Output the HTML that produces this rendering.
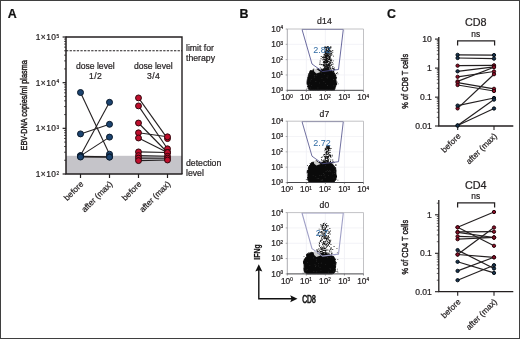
<!DOCTYPE html>
<html lang="en"><head><meta charset="utf-8"><title>Figure</title>
<style>html,body{margin:0;padding:0;background:#fff}body{width:520px;height:339px;overflow:hidden}svg{display:block}</style>
</head><body>
<svg width="520" height="339" viewBox="0 0 520 339" font-family="Liberation Sans, Arial, Helvetica, sans-serif" fill="#231f20"><style>text{stroke:#231f20;stroke-width:.22px;paint-order:stroke}</style>
<rect x="0" y="0" width="520" height="339" fill="#fff"/>
<rect x="0.5" y="0.5" width="519" height="338" fill="none" stroke="#3f3f3f" stroke-width="1"/>
<text x="7.8" y="18.4" font-size="12.4" font-weight="bold" fill="#111" style="stroke:#111">A</text>
<text x="239.5" y="18.4" font-size="12.4" font-weight="bold" fill="#111" style="stroke:#111">B</text>
<text x="386.9" y="18.4" font-size="12.4" font-weight="bold" fill="#111" style="stroke:#111">C</text>
<rect x="66.0" y="155.8" width="116.0" height="18.19999999999999" fill="#c5c4c9"/>
<line x1="66.0" y1="50.7" x2="182.0" y2="50.7" stroke="#231f20" stroke-width="1.15" stroke-dasharray="2.3 1.3"/>
<path d="M66.0 37.0H182.0V174.0" fill="none" stroke="#231f20" stroke-width="1.4"/>
<path d="M66.0 36.4V174.0H182.5" fill="none" stroke="#231f20" stroke-width="1.5"/>
<line x1="62.6" y1="37.00" x2="66.0" y2="37.00" stroke="#231f20" stroke-width="1.2"/>
<line x1="64.1" y1="68.92" x2="66.0" y2="68.92" stroke="#231f20" stroke-width="0.8"/>
<line x1="64.1" y1="60.88" x2="66.0" y2="60.88" stroke="#231f20" stroke-width="0.8"/>
<line x1="64.1" y1="55.17" x2="66.0" y2="55.17" stroke="#231f20" stroke-width="0.8"/>
<line x1="64.1" y1="50.75" x2="66.0" y2="50.75" stroke="#231f20" stroke-width="0.8"/>
<line x1="64.1" y1="47.13" x2="66.0" y2="47.13" stroke="#231f20" stroke-width="0.8"/>
<line x1="64.1" y1="44.07" x2="66.0" y2="44.07" stroke="#231f20" stroke-width="0.8"/>
<line x1="64.1" y1="41.43" x2="66.0" y2="41.43" stroke="#231f20" stroke-width="0.8"/>
<line x1="64.1" y1="39.09" x2="66.0" y2="39.09" stroke="#231f20" stroke-width="0.8"/>
<text x="59.5" y="40.00" font-size="8.4" letter-spacing="0.45" text-anchor="end">1×10<tspan dy="-2.5" font-size="4.7">5</tspan></text>
<line x1="62.6" y1="82.67" x2="66.0" y2="82.67" stroke="#231f20" stroke-width="1.2"/>
<line x1="64.1" y1="114.59" x2="66.0" y2="114.59" stroke="#231f20" stroke-width="0.8"/>
<line x1="64.1" y1="106.54" x2="66.0" y2="106.54" stroke="#231f20" stroke-width="0.8"/>
<line x1="64.1" y1="100.84" x2="66.0" y2="100.84" stroke="#231f20" stroke-width="0.8"/>
<line x1="64.1" y1="96.41" x2="66.0" y2="96.41" stroke="#231f20" stroke-width="0.8"/>
<line x1="64.1" y1="92.80" x2="66.0" y2="92.80" stroke="#231f20" stroke-width="0.8"/>
<line x1="64.1" y1="89.74" x2="66.0" y2="89.74" stroke="#231f20" stroke-width="0.8"/>
<line x1="64.1" y1="87.09" x2="66.0" y2="87.09" stroke="#231f20" stroke-width="0.8"/>
<line x1="64.1" y1="84.76" x2="66.0" y2="84.76" stroke="#231f20" stroke-width="0.8"/>
<text x="59.5" y="85.67" font-size="8.4" letter-spacing="0.45" text-anchor="end">1×10<tspan dy="-2.5" font-size="4.7">4</tspan></text>
<line x1="62.6" y1="128.33" x2="66.0" y2="128.33" stroke="#231f20" stroke-width="1.2"/>
<line x1="64.1" y1="160.25" x2="66.0" y2="160.25" stroke="#231f20" stroke-width="0.8"/>
<line x1="64.1" y1="152.21" x2="66.0" y2="152.21" stroke="#231f20" stroke-width="0.8"/>
<line x1="64.1" y1="146.51" x2="66.0" y2="146.51" stroke="#231f20" stroke-width="0.8"/>
<line x1="64.1" y1="142.08" x2="66.0" y2="142.08" stroke="#231f20" stroke-width="0.8"/>
<line x1="64.1" y1="138.46" x2="66.0" y2="138.46" stroke="#231f20" stroke-width="0.8"/>
<line x1="64.1" y1="135.41" x2="66.0" y2="135.41" stroke="#231f20" stroke-width="0.8"/>
<line x1="64.1" y1="132.76" x2="66.0" y2="132.76" stroke="#231f20" stroke-width="0.8"/>
<line x1="64.1" y1="130.42" x2="66.0" y2="130.42" stroke="#231f20" stroke-width="0.8"/>
<text x="59.5" y="131.33" font-size="8.4" letter-spacing="0.45" text-anchor="end">1×10<tspan dy="-2.5" font-size="4.7">3</tspan></text>
<line x1="62.6" y1="174.00" x2="66.0" y2="174.00" stroke="#231f20" stroke-width="1.2"/>
<text x="59.5" y="177.00" font-size="8.4" letter-spacing="0.45" text-anchor="end">1×10<tspan dy="-2.5" font-size="4.7">2</tspan></text>
<line x1="80.50" y1="174.0" x2="80.50" y2="178.0" stroke="#231f20" stroke-width="1.2"/>
<text transform="translate(84.00 184.5) rotate(-45)" font-size="8.3" text-anchor="end">before</text>
<line x1="109.50" y1="174.0" x2="109.50" y2="178.0" stroke="#231f20" stroke-width="1.2"/>
<text transform="translate(113.00 184.5) rotate(-45)" font-size="8.3" text-anchor="end">after (max)</text>
<line x1="138.50" y1="174.0" x2="138.50" y2="178.0" stroke="#231f20" stroke-width="1.2"/>
<text transform="translate(142.00 184.5) rotate(-45)" font-size="8.3" text-anchor="end">before</text>
<line x1="167.50" y1="174.0" x2="167.50" y2="178.0" stroke="#231f20" stroke-width="1.2"/>
<text transform="translate(171.00 184.5) rotate(-45)" font-size="8.3" text-anchor="end">after (max)</text>
<text transform="translate(26.5 105.3) rotate(-90)" font-size="9.4" style="stroke-width:.45px" text-anchor="middle" textLength="90.2" lengthAdjust="spacingAndGlyphs">EBV-DNA copies/ml plasma</text>
<text x="95.3" y="68.6" font-size="8.6" text-anchor="middle">dose level</text>
<text x="95.6" y="78.6" font-size="8.6" letter-spacing="0.35" text-anchor="middle">1/2</text>
<text x="153.3" y="68.6" font-size="8.6" text-anchor="middle">dose level</text>
<text x="153.6" y="78.6" font-size="8.6" letter-spacing="0.35" text-anchor="middle">3/4</text>
<text x="186" y="50.6" font-size="8.7">limit for</text>
<text x="186" y="61.4" font-size="8.7">therapy</text>
<text x="186" y="165.6" font-size="8.7">detection</text>
<text x="186" y="176.2" font-size="8.7">level</text>
<line x1="80.5" y1="92.5" x2="109.5" y2="154.2" stroke="#231f20" stroke-width="1.1"/>
<line x1="80.5" y1="133.9" x2="109.5" y2="124.3" stroke="#231f20" stroke-width="1.1"/>
<line x1="80.5" y1="155.6" x2="109.5" y2="102.3" stroke="#231f20" stroke-width="1.1"/>
<line x1="80.5" y1="155.9" x2="109.5" y2="137.1" stroke="#231f20" stroke-width="1.1"/>
<line x1="80.5" y1="156.4" x2="109.5" y2="156.7" stroke="#231f20" stroke-width="1.1"/>
<line x1="80.5" y1="157.0" x2="109.5" y2="157.2" stroke="#231f20" stroke-width="1.1"/>
<circle cx="80.5" cy="92.5" r="3.0" fill="#1c4470" stroke="#0a1a2c" stroke-width="1.0"/>
<circle cx="109.5" cy="154.2" r="3.0" fill="#1c4470" stroke="#0a1a2c" stroke-width="1.0"/>
<circle cx="80.5" cy="133.9" r="3.0" fill="#1c4470" stroke="#0a1a2c" stroke-width="1.0"/>
<circle cx="109.5" cy="124.3" r="3.0" fill="#1c4470" stroke="#0a1a2c" stroke-width="1.0"/>
<circle cx="80.5" cy="155.6" r="3.0" fill="#1c4470" stroke="#0a1a2c" stroke-width="1.0"/>
<circle cx="109.5" cy="102.3" r="3.0" fill="#1c4470" stroke="#0a1a2c" stroke-width="1.0"/>
<circle cx="80.5" cy="155.9" r="3.0" fill="#1c4470" stroke="#0a1a2c" stroke-width="1.0"/>
<circle cx="109.5" cy="137.1" r="3.0" fill="#1c4470" stroke="#0a1a2c" stroke-width="1.0"/>
<circle cx="80.5" cy="156.4" r="3.0" fill="#1c4470" stroke="#0a1a2c" stroke-width="1.0"/>
<circle cx="109.5" cy="156.7" r="3.0" fill="#1c4470" stroke="#0a1a2c" stroke-width="1.0"/>
<circle cx="80.5" cy="157.0" r="3.0" fill="#1c4470" stroke="#0a1a2c" stroke-width="1.0"/>
<circle cx="109.5" cy="157.2" r="3.0" fill="#1c4470" stroke="#0a1a2c" stroke-width="1.0"/>
<line x1="138.5" y1="97.9" x2="167.5" y2="138.6" stroke="#231f20" stroke-width="1.1"/>
<line x1="138.5" y1="105.9" x2="167.5" y2="148.8" stroke="#231f20" stroke-width="1.1"/>
<line x1="138.5" y1="123" x2="167.5" y2="152.5" stroke="#231f20" stroke-width="1.1"/>
<line x1="138.5" y1="132.8" x2="167.5" y2="136.8" stroke="#231f20" stroke-width="1.1"/>
<line x1="138.5" y1="138" x2="167.5" y2="152.5" stroke="#231f20" stroke-width="1.1"/>
<line x1="138.5" y1="151.9" x2="167.5" y2="152.5" stroke="#231f20" stroke-width="1.1"/>
<line x1="138.5" y1="155.6" x2="167.5" y2="156.3" stroke="#231f20" stroke-width="1.1"/>
<line x1="138.5" y1="158.1" x2="167.5" y2="158.2" stroke="#231f20" stroke-width="1.1"/>
<line x1="138.5" y1="160.6" x2="167.5" y2="160" stroke="#231f20" stroke-width="1.1"/>
<circle cx="138.5" cy="97.9" r="2.95" fill="#c00f2d" stroke="#30060c" stroke-width="1.0"/>
<circle cx="167.5" cy="138.6" r="2.95" fill="#c00f2d" stroke="#30060c" stroke-width="1.0"/>
<circle cx="138.5" cy="105.9" r="2.95" fill="#c00f2d" stroke="#30060c" stroke-width="1.0"/>
<circle cx="167.5" cy="148.8" r="2.95" fill="#c00f2d" stroke="#30060c" stroke-width="1.0"/>
<circle cx="138.5" cy="123" r="2.95" fill="#c00f2d" stroke="#30060c" stroke-width="1.0"/>
<circle cx="167.5" cy="152.5" r="2.95" fill="#c00f2d" stroke="#30060c" stroke-width="1.0"/>
<circle cx="138.5" cy="132.8" r="2.95" fill="#c00f2d" stroke="#30060c" stroke-width="1.0"/>
<circle cx="167.5" cy="136.8" r="2.95" fill="#c00f2d" stroke="#30060c" stroke-width="1.0"/>
<circle cx="138.5" cy="138" r="2.95" fill="#c00f2d" stroke="#30060c" stroke-width="1.0"/>
<circle cx="167.5" cy="152.5" r="2.95" fill="#c00f2d" stroke="#30060c" stroke-width="1.0"/>
<circle cx="138.5" cy="151.9" r="2.95" fill="#c00f2d" stroke="#30060c" stroke-width="1.0"/>
<circle cx="167.5" cy="152.5" r="2.95" fill="#c00f2d" stroke="#30060c" stroke-width="1.0"/>
<circle cx="138.5" cy="155.6" r="2.95" fill="#c00f2d" stroke="#30060c" stroke-width="1.0"/>
<circle cx="167.5" cy="156.3" r="2.95" fill="#c00f2d" stroke="#30060c" stroke-width="1.0"/>
<circle cx="138.5" cy="158.1" r="2.95" fill="#c00f2d" stroke="#30060c" stroke-width="1.0"/>
<circle cx="167.5" cy="158.2" r="2.95" fill="#c00f2d" stroke="#30060c" stroke-width="1.0"/>
<circle cx="138.5" cy="160.6" r="2.95" fill="#c00f2d" stroke="#30060c" stroke-width="1.0"/>
<circle cx="167.5" cy="160" r="2.95" fill="#c00f2d" stroke="#30060c" stroke-width="1.0"/>
<text x="324.5" y="24.3" font-size="8.6" letter-spacing="0.3" text-anchor="middle">d14</text>
<line x1="306.35" y1="29.0" x2="306.35" y2="90.3" stroke="#f0f0f5" stroke-width="0.8"/>
<line x1="287.3" y1="44.33" x2="363.5" y2="44.33" stroke="#f0f0f5" stroke-width="0.8"/>
<line x1="325.40" y1="29.0" x2="325.40" y2="90.3" stroke="#f0f0f5" stroke-width="0.8"/>
<line x1="287.3" y1="59.65" x2="363.5" y2="59.65" stroke="#f0f0f5" stroke-width="0.8"/>
<line x1="344.45" y1="29.0" x2="344.45" y2="90.3" stroke="#f0f0f5" stroke-width="0.8"/>
<line x1="287.3" y1="74.97" x2="363.5" y2="74.97" stroke="#f0f0f5" stroke-width="0.8"/>
<path d="M329.7 72.5h.9v.9h-.9zM322.1 70.9h.9v.9h-.9zM322.8 65.5h.9v.9h-.9zM328.2 55.5h.9v.9h-.9zM332.7 72.8h.9v.9h-.9zM327.7 67.2h.9v.9h-.9zM329.6 56.5h.9v.9h-.9zM327.1 58.1h.9v.9h-.9zM333.1 71.3h.9v.9h-.9zM324.1 73.1h.9v.9h-.9zM318.9 73.2h.9v.9h-.9zM324.8 68.4h.9v.9h-.9zM325.9 71.5h.9v.9h-.9zM326.9 71.4h.9v.9h-.9zM324.6 67.0h.9v.9h-.9zM326.6 71.3h.9v.9h-.9zM324.0 71.4h.9v.9h-.9zM327.2 73.2h.9v.9h-.9zM324.4 53.4h.9v.9h-.9zM324.9 71.9h.9v.9h-.9zM328.0 46.4h.9v.9h-.9zM325.4 69.4h.9v.9h-.9zM325.7 58.1h.9v.9h-.9zM319.9 67.4h.9v.9h-.9zM326.3 53.7h.9v.9h-.9zM324.9 62.8h.9v.9h-.9zM328.6 51.5h.9v.9h-.9zM324.3 62.7h.9v.9h-.9zM326.8 73.1h.9v.9h-.9zM332.0 67.6h.9v.9h-.9zM321.7 72.0h.9v.9h-.9zM325.8 59.8h.9v.9h-.9zM323.3 68.6h.9v.9h-.9zM328.2 55.9h.9v.9h-.9zM324.2 64.8h.9v.9h-.9zM328.9 73.2h.9v.9h-.9zM323.8 73.1h.9v.9h-.9zM319.5 62.6h.9v.9h-.9zM328.4 68.1h.9v.9h-.9zM329.3 46.9h.9v.9h-.9zM322.7 56.2h.9v.9h-.9zM325.0 71.2h.9v.9h-.9zM330.4 65.0h.9v.9h-.9zM325.6 66.5h.9v.9h-.9zM319.0 70.6h.9v.9h-.9zM324.0 73.2h.9v.9h-.9zM329.2 55.7h.9v.9h-.9zM322.6 57.4h.9v.9h-.9zM324.4 54.6h.9v.9h-.9zM326.3 67.3h.9v.9h-.9zM329.5 73.0h.9v.9h-.9zM323.5 71.7h.9v.9h-.9zM324.1 65.3h.9v.9h-.9zM326.9 69.2h.9v.9h-.9zM324.1 64.3h.9v.9h-.9zM323.9 66.5h.9v.9h-.9zM326.8 73.2h.9v.9h-.9zM328.6 62.9h.9v.9h-.9zM328.4 52.4h.9v.9h-.9zM323.5 54.3h.9v.9h-.9zM329.2 70.9h.9v.9h-.9zM322.4 72.9h.9v.9h-.9zM332.1 73.2h.9v.9h-.9zM327.1 71.0h.9v.9h-.9zM324.4 72.7h.9v.9h-.9zM324.4 73.0h.9v.9h-.9zM324.6 72.2h.9v.9h-.9zM326.3 70.6h.9v.9h-.9zM325.0 58.5h.9v.9h-.9zM327.5 66.1h.9v.9h-.9zM323.9 73.2h.9v.9h-.9zM328.8 71.9h.9v.9h-.9zM329.7 72.7h.9v.9h-.9zM324.3 71.6h.9v.9h-.9zM327.1 62.2h.9v.9h-.9zM325.9 73.2h.9v.9h-.9zM326.2 72.3h.9v.9h-.9zM325.6 58.7h.9v.9h-.9zM325.3 59.7h.9v.9h-.9zM327.1 47.2h.9v.9h-.9zM325.6 55.1h.9v.9h-.9zM326.8 60.7h.9v.9h-.9zM324.3 68.1h.9v.9h-.9zM325.9 61.3h.9v.9h-.9zM323.9 73.0h.9v.9h-.9zM332.3 51.8h.9v.9h-.9zM328.3 70.0h.9v.9h-.9zM326.2 48.9h.9v.9h-.9zM325.5 57.2h.9v.9h-.9zM327.8 73.2h.9v.9h-.9zM330.9 51.6h.9v.9h-.9zM328.2 47.8h.9v.9h-.9zM329.5 63.3h.9v.9h-.9zM330.5 47.3h.9v.9h-.9zM324.7 58.7h.9v.9h-.9zM326.5 69.2h.9v.9h-.9zM325.0 71.6h.9v.9h-.9zM323.5 71.8h.9v.9h-.9zM325.1 72.7h.9v.9h-.9zM324.7 65.4h.9v.9h-.9zM331.3 69.6h.9v.9h-.9zM321.3 73.2h.9v.9h-.9zM322.1 71.7h.9v.9h-.9zM333.0 55.7h.9v.9h-.9zM327.7 69.3h.9v.9h-.9zM330.3 53.4h.9v.9h-.9zM325.2 49.2h.9v.9h-.9zM331.3 59.4h.9v.9h-.9zM328.9 65.8h.9v.9h-.9zM326.9 57.9h.9v.9h-.9zM330.0 72.9h.9v.9h-.9zM332.8 71.5h.9v.9h-.9zM323.5 56.6h.9v.9h-.9zM323.2 68.7h.9v.9h-.9zM325.1 69.3h.9v.9h-.9zM332.1 62.2h.9v.9h-.9zM328.2 48.2h.9v.9h-.9zM325.9 63.9h.9v.9h-.9zM327.8 72.7h.9v.9h-.9zM327.5 52.2h.9v.9h-.9zM328.1 55.5h.9v.9h-.9zM324.8 61.9h.9v.9h-.9zM325.0 55.7h.9v.9h-.9zM329.5 71.4h.9v.9h-.9zM325.8 72.9h.9v.9h-.9zM332.6 63.5h.9v.9h-.9zM325.9 49.6h.9v.9h-.9zM327.6 55.5h.9v.9h-.9zM330.4 53.8h.9v.9h-.9zM326.9 72.8h.9v.9h-.9zM327.2 72.6h.9v.9h-.9zM326.0 71.1h.9v.9h-.9zM326.7 46.6h.9v.9h-.9zM327.3 72.1h.9v.9h-.9zM326.5 71.1h.9v.9h-.9zM326.4 50.2h.9v.9h-.9zM333.2 68.5h.9v.9h-.9zM325.3 70.2h.9v.9h-.9zM325.1 70.9h.9v.9h-.9zM327.1 60.6h.9v.9h-.9zM336.0 73.1h.9v.9h-.9zM327.2 70.2h.9v.9h-.9zM324.7 62.5h.9v.9h-.9zM327.4 73.0h.9v.9h-.9zM332.3 50.1h.9v.9h-.9zM324.9 72.7h.9v.9h-.9zM319.9 71.5h.9v.9h-.9zM321.6 64.1h.9v.9h-.9zM326.0 59.3h.9v.9h-.9zM325.0 64.2h.9v.9h-.9zM326.6 69.9h.9v.9h-.9zM327.9 70.4h.9v.9h-.9zM325.1 46.8h.9v.9h-.9zM328.2 60.9h.9v.9h-.9zM326.2 48.8h.9v.9h-.9zM328.3 69.6h.9v.9h-.9zM330.4 69.8h.9v.9h-.9zM321.2 70.0h.9v.9h-.9zM322.7 69.4h.9v.9h-.9zM325.9 62.5h.9v.9h-.9zM329.0 71.0h.9v.9h-.9zM326.8 73.0h.9v.9h-.9zM327.8 63.9h.9v.9h-.9zM327.4 61.2h.9v.9h-.9zM327.6 70.3h.9v.9h-.9zM325.0 52.4h.9v.9h-.9zM320.7 72.3h.9v.9h-.9zM326.5 72.9h.9v.9h-.9zM328.9 48.4h.9v.9h-.9zM330.1 46.7h.9v.9h-.9zM326.8 54.1h.9v.9h-.9zM328.0 65.0h.9v.9h-.9zM326.3 49.8h.9v.9h-.9zM333.2 72.4h.9v.9h-.9zM329.0 50.2h.9v.9h-.9zM327.7 50.6h.9v.9h-.9zM330.7 54.8h.9v.9h-.9zM324.6 57.1h.9v.9h-.9zM328.2 59.3h.9v.9h-.9zM329.7 72.2h.9v.9h-.9zM326.1 58.3h.9v.9h-.9zM324.3 73.0h.9v.9h-.9zM328.2 47.8h.9v.9h-.9zM323.6 64.2h.9v.9h-.9zM325.2 52.8h.9v.9h-.9zM327.5 69.3h.9v.9h-.9zM331.1 70.8h.9v.9h-.9zM327.4 67.6h.9v.9h-.9zM329.2 63.3h.9v.9h-.9zM327.7 72.4h.9v.9h-.9zM326.2 72.6h.9v.9h-.9zM332.3 68.0h.9v.9h-.9zM325.0 67.9h.9v.9h-.9zM324.9 73.2h.9v.9h-.9zM322.8 64.6h.9v.9h-.9zM326.7 67.0h.9v.9h-.9zM326.8 59.4h.9v.9h-.9zM324.7 65.5h.9v.9h-.9zM327.2 66.0h.9v.9h-.9zM329.6 63.6h.9v.9h-.9zM328.7 50.4h.9v.9h-.9zM325.9 60.8h.9v.9h-.9zM330.1 73.1h.9v.9h-.9zM328.3 51.7h.9v.9h-.9zM327.2 72.2h.9v.9h-.9zM320.2 69.9h.9v.9h-.9zM328.4 59.2h.9v.9h-.9zM325.1 58.8h.9v.9h-.9zM323.2 57.5h.9v.9h-.9zM325.2 50.9h.9v.9h-.9zM326.4 47.9h.9v.9h-.9zM325.7 70.9h.9v.9h-.9zM321.6 71.5h.9v.9h-.9zM324.1 73.1h.9v.9h-.9zM326.5 59.6h.9v.9h-.9zM324.2 65.0h.9v.9h-.9zM326.4 72.1h.9v.9h-.9zM327.0 46.9h.9v.9h-.9zM326.0 54.7h.9v.9h-.9zM326.3 50.1h.9v.9h-.9zM329.4 48.0h.9v.9h-.9zM330.0 53.2h.9v.9h-.9zM326.1 60.3h.9v.9h-.9zM325.4 49.6h.9v.9h-.9zM325.1 47.4h.9v.9h-.9zM330.3 67.2h.9v.9h-.9zM325.8 72.1h.9v.9h-.9zM328.2 50.3h.9v.9h-.9zM329.2 48.0h.9v.9h-.9zM329.5 67.8h.9v.9h-.9zM325.8 72.6h.9v.9h-.9zM328.8 57.0h.9v.9h-.9zM327.8 73.2h.9v.9h-.9zM329.8 73.2h.9v.9h-.9zM323.0 61.4h.9v.9h-.9zM322.8 71.6h.9v.9h-.9zM324.2 70.4h.9v.9h-.9zM326.3 62.8h.9v.9h-.9zM324.3 70.9h.9v.9h-.9zM323.6 54.6h.9v.9h-.9zM325.5 47.3h.9v.9h-.9zM326.6 52.7h.9v.9h-.9zM325.1 56.2h.9v.9h-.9zM325.3 70.4h.9v.9h-.9zM327.1 72.7h.9v.9h-.9zM326.0 57.1h.9v.9h-.9zM331.4 64.1h.9v.9h-.9zM326.8 47.3h.9v.9h-.9zM322.2 72.4h.9v.9h-.9zM326.6 69.9h.9v.9h-.9zM324.6 65.3h.9v.9h-.9zM329.7 73.2h.9v.9h-.9zM324.3 66.9h.9v.9h-.9zM327.5 68.0h.9v.9h-.9zM326.1 55.7h.9v.9h-.9zM324.2 60.8h.9v.9h-.9zM326.7 68.5h.9v.9h-.9zM326.9 70.5h.9v.9h-.9zM330.6 62.4h.9v.9h-.9zM323.2 65.1h.9v.9h-.9zM324.3 46.6h.9v.9h-.9zM328.1 67.8h.9v.9h-.9zM329.1 57.2h.9v.9h-.9zM326.3 72.1h.9v.9h-.9zM324.5 61.7h.9v.9h-.9zM325.9 73.2h.9v.9h-.9zM323.9 68.2h.9v.9h-.9zM328.2 52.4h.9v.9h-.9zM326.3 62.9h.9v.9h-.9zM322.1 57.0h.9v.9h-.9zM326.7 65.6h.9v.9h-.9zM323.3 60.7h.9v.9h-.9zM323.9 61.4h.9v.9h-.9zM329.0 61.2h.9v.9h-.9zM328.1 49.0h.9v.9h-.9zM322.8 56.3h.9v.9h-.9zM325.6 54.4h.9v.9h-.9zM324.8 70.7h.9v.9h-.9zM329.2 58.6h.9v.9h-.9zM323.6 72.3h.9v.9h-.9zM324.8 53.6h.9v.9h-.9zM326.9 73.1h.9v.9h-.9zM326.7 65.1h.9v.9h-.9zM323.4 69.0h.9v.9h-.9zM330.0 60.4h.9v.9h-.9zM327.7 48.6h.9v.9h-.9zM323.9 59.2h.9v.9h-.9zM329.3 62.2h.9v.9h-.9zM328.3 71.6h.9v.9h-.9zM333.0 70.6h.9v.9h-.9zM328.5 72.9h.9v.9h-.9zM323.4 68.7h.9v.9h-.9zM326.7 65.1h.9v.9h-.9zM325.4 60.6h.9v.9h-.9zM327.8 58.4h.9v.9h-.9zM325.0 62.0h.9v.9h-.9zM324.7 71.2h.9v.9h-.9zM326.6 55.4h.9v.9h-.9zM326.6 52.2h.9v.9h-.9zM328.5 47.7h.9v.9h-.9zM327.4 58.6h.9v.9h-.9zM326.9 50.7h.9v.9h-.9zM325.8 61.6h.9v.9h-.9zM329.4 56.5h.9v.9h-.9zM328.3 55.6h.9v.9h-.9zM330.8 72.1h.9v.9h-.9zM323.8 47.3h.9v.9h-.9zM328.9 57.8h.9v.9h-.9zM326.7 62.2h.9v.9h-.9zM330.5 72.4h.9v.9h-.9zM325.9 72.4h.9v.9h-.9zM324.9 56.9h.9v.9h-.9zM325.6 71.1h.9v.9h-.9zM321.7 70.0h.9v.9h-.9zM323.4 72.7h.9v.9h-.9zM328.8 72.8h.9v.9h-.9zM330.7 71.9h.9v.9h-.9zM328.2 51.2h.9v.9h-.9zM331.5 71.5h.9v.9h-.9zM327.9 54.4h.9v.9h-.9zM326.2 47.7h.9v.9h-.9zM326.0 53.4h.9v.9h-.9zM326.0 72.6h.9v.9h-.9zM325.4 68.0h.9v.9h-.9zM325.5 65.5h.9v.9h-.9zM327.9 71.2h.9v.9h-.9zM324.4 54.2h.9v.9h-.9zM327.6 71.5h.9v.9h-.9zM325.5 58.3h.9v.9h-.9zM329.6 50.3h.9v.9h-.9zM330.4 46.3h.9v.9h-.9zM328.3 52.6h.9v.9h-.9zM323.6 69.7h.9v.9h-.9zM329.0 49.8h.9v.9h-.9zM330.4 68.0h.9v.9h-.9zM322.8 72.3h.9v.9h-.9zM328.4 50.1h.9v.9h-.9zM327.1 60.2h.9v.9h-.9zM325.2 73.0h.9v.9h-.9zM327.8 66.4h.9v.9h-.9zM327.7 53.3h.9v.9h-.9zM326.0 73.0h.9v.9h-.9zM328.9 53.3h.9v.9h-.9zM327.2 72.6h.9v.9h-.9zM331.2 72.8h.9v.9h-.9zM327.7 57.2h.9v.9h-.9zM329.1 59.4h.9v.9h-.9zM323.0 68.2h.9v.9h-.9zM330.6 61.3h.9v.9h-.9zM325.7 71.1h.9v.9h-.9zM330.6 73.0h.9v.9h-.9zM325.0 69.1h.9v.9h-.9zM323.9 62.2h.9v.9h-.9zM325.0 73.0h.9v.9h-.9zM324.9 69.0h.9v.9h-.9zM328.0 51.6h.9v.9h-.9zM324.3 67.4h.9v.9h-.9zM323.9 57.3h.9v.9h-.9zM327.1 58.1h.9v.9h-.9zM326.1 47.1h.9v.9h-.9zM332.1 72.3h.9v.9h-.9zM325.2 52.8h.9v.9h-.9zM331.6 73.1h.9v.9h-.9zM329.6 66.2h.9v.9h-.9zM327.5 68.7h.9v.9h-.9zM326.7 64.5h.9v.9h-.9zM328.8 66.9h.9v.9h-.9zM328.8 58.6h.9v.9h-.9zM329.7 51.5h.9v.9h-.9zM327.1 72.8h.9v.9h-.9zM327.7 55.0h.9v.9h-.9zM327.1 68.3h.9v.9h-.9zM326.6 57.7h.9v.9h-.9zM328.2 55.2h.9v.9h-.9zM328.3 54.7h.9v.9h-.9zM324.7 67.4h.9v.9h-.9zM323.9 71.0h.9v.9h-.9zM325.7 69.3h.9v.9h-.9zM330.0 55.7h.9v.9h-.9zM325.3 72.7h.9v.9h-.9zM319.7 60.6h.9v.9h-.9zM329.3 58.2h.9v.9h-.9zM326.4 53.5h.9v.9h-.9zM325.0 50.8h.9v.9h-.9zM326.9 53.7h.9v.9h-.9zM328.4 68.6h.9v.9h-.9zM328.9 64.8h.9v.9h-.9zM328.3 63.2h.9v.9h-.9zM328.4 73.1h.9v.9h-.9zM322.5 69.8h.9v.9h-.9zM324.9 70.1h.9v.9h-.9zM328.8 57.1h.9v.9h-.9zM325.2 65.4h.9v.9h-.9zM327.2 50.0h.9v.9h-.9zM326.1 69.6h.9v.9h-.9zM328.0 47.0h.9v.9h-.9zM332.4 66.0h.9v.9h-.9zM325.4 47.5h.9v.9h-.9zM331.6 54.4h.9v.9h-.9zM324.9 54.9h.9v.9h-.9zM322.3 72.5h.9v.9h-.9zM327.2 46.4h.9v.9h-.9zM326.1 55.6h.9v.9h-.9zM321.8 68.8h.9v.9h-.9zM326.2 48.8h.9v.9h-.9zM324.4 66.4h.9v.9h-.9zM326.4 47.0h.9v.9h-.9zM326.1 72.3h.9v.9h-.9zM322.0 59.4h.9v.9h-.9zM323.8 71.9h.9v.9h-.9zM326.6 67.7h.9v.9h-.9zM325.5 72.8h.9v.9h-.9zM326.7 64.1h.9v.9h-.9zM328.1 70.8h.9v.9h-.9zM325.9 61.3h.9v.9h-.9zM326.3 73.0h.9v.9h-.9zM326.4 52.9h.9v.9h-.9zM326.3 52.4h.9v.9h-.9zM322.1 73.2h.9v.9h-.9zM330.5 58.5h.9v.9h-.9zM329.9 70.4h.9v.9h-.9zM325.5 52.2h.9v.9h-.9zM324.7 51.0h.9v.9h-.9zM328.7 64.1h.9v.9h-.9zM328.3 48.6h.9v.9h-.9zM323.8 54.4h.9v.9h-.9zM327.5 46.1h.9v.9h-.9zM328.7 57.1h.9v.9h-.9zM324.5 56.2h.9v.9h-.9zM326.4 67.9h.9v.9h-.9zM328.1 51.5h.9v.9h-.9zM322.3 73.1h.9v.9h-.9zM325.9 52.8h.9v.9h-.9zM327.1 70.1h.9v.9h-.9zM328.3 59.2h.9v.9h-.9zM326.7 70.0h.9v.9h-.9zM327.2 51.3h.9v.9h-.9zM319.4 64.1h.9v.9h-.9zM323.7 63.2h.9v.9h-.9zM325.8 64.2h.9v.9h-.9zM329.3 54.2h.9v.9h-.9zM326.2 61.4h.9v.9h-.9zM325.4 69.9h.9v.9h-.9zM329.9 62.8h.9v.9h-.9zM328.5 63.9h.9v.9h-.9zM326.7 61.1h.9v.9h-.9zM327.3 46.3h.9v.9h-.9zM322.7 68.7h.9v.9h-.9zM332.6 67.9h.9v.9h-.9zM324.9 60.0h.9v.9h-.9zM330.7 50.8h.9v.9h-.9zM324.0 68.4h.9v.9h-.9zM327.6 66.4h.9v.9h-.9zM324.9 57.0h.9v.9h-.9zM325.1 65.9h.9v.9h-.9zM329.6 72.6h.9v.9h-.9zM326.1 69.0h.9v.9h-.9zM326.9 72.1h.9v.9h-.9zM329.3 70.8h.9v.9h-.9zM323.3 70.3h.9v.9h-.9zM327.4 46.1h.9v.9h-.9zM329.9 57.4h.9v.9h-.9zM323.1 59.2h.9v.9h-.9zM328.8 65.8h.9v.9h-.9zM320.6 58.3h.9v.9h-.9zM327.4 58.3h.9v.9h-.9zM332.4 72.8h.9v.9h-.9zM332.7 71.3h.9v.9h-.9zM326.4 73.2h.9v.9h-.9zM329.5 48.3h.9v.9h-.9zM325.7 68.0h.9v.9h-.9zM320.3 72.8h.9v.9h-.9zM330.3 62.0h.9v.9h-.9zM326.7 64.4h.9v.9h-.9zM334.3 69.2h.9v.9h-.9zM323.6 72.7h.9v.9h-.9zM323.2 63.8h.9v.9h-.9zM328.9 72.6h.9v.9h-.9zM325.9 70.7h.9v.9h-.9zM329.7 55.3h.9v.9h-.9zM328.0 52.6h.9v.9h-.9zM321.7 72.9h.9v.9h-.9zM325.4 68.2h.9v.9h-.9zM324.7 65.2h.9v.9h-.9zM330.2 50.5h.9v.9h-.9zM330.8 72.7h.9v.9h-.9zM328.4 68.3h.9v.9h-.9zM325.8 64.8h.9v.9h-.9zM333.8 67.6h.9v.9h-.9zM320.3 70.3h.9v.9h-.9zM329.6 65.6h.9v.9h-.9zM324.1 71.5h.9v.9h-.9zM325.7 56.6h.9v.9h-.9zM329.8 73.2h.9v.9h-.9zM325.3 46.5h.9v.9h-.9zM324.1 47.5h.9v.9h-.9zM323.3 70.7h.9v.9h-.9zM326.5 56.6h.9v.9h-.9zM327.5 53.2h.9v.9h-.9zM329.0 58.7h.9v.9h-.9zM328.1 67.7h.9v.9h-.9zM328.2 63.6h.9v.9h-.9zM330.1 62.4h.9v.9h-.9zM326.1 62.1h.9v.9h-.9zM324.3 72.3h.9v.9h-.9zM328.1 59.1h.9v.9h-.9zM327.3 70.7h.9v.9h-.9zM329.5 66.2h.9v.9h-.9zM325.1 69.3h.9v.9h-.9zM326.5 51.6h.9v.9h-.9zM326.2 59.1h.9v.9h-.9zM326.4 69.6h.9v.9h-.9zM324.2 59.2h.9v.9h-.9zM324.5 51.1h.9v.9h-.9zM323.8 69.8h.9v.9h-.9zM326.6 72.5h.9v.9h-.9zM326.5 72.4h.9v.9h-.9zM328.0 64.3h.9v.9h-.9zM323.6 58.8h.9v.9h-.9zM324.7 71.3h.9v.9h-.9zM320.4 71.7h.9v.9h-.9zM324.2 67.4h.9v.9h-.9zM329.3 73.2h.9v.9h-.9zM327.2 61.8h.9v.9h-.9zM327.3 72.9h.9v.9h-.9zM330.0 46.7h.9v.9h-.9zM323.6 69.3h.9v.9h-.9zM324.1 73.2h.9v.9h-.9zM328.1 69.5h.9v.9h-.9zM328.5 56.2h.9v.9h-.9zM328.0 59.6h.9v.9h-.9zM327.3 58.0h.9v.9h-.9zM325.4 72.7h.9v.9h-.9zM328.9 73.1h.9v.9h-.9zM328.7 73.1h.9v.9h-.9zM328.8 49.2h.9v.9h-.9zM327.1 61.1h.9v.9h-.9zM331.4 70.6h.9v.9h-.9zM323.8 65.0h.9v.9h-.9zM333.4 69.0h.9v.9h-.9zM324.5 54.9h.9v.9h-.9zM322.9 62.2h.9v.9h-.9zM324.7 52.0h.9v.9h-.9zM329.1 61.7h.9v.9h-.9zM323.6 64.6h.9v.9h-.9zM325.2 68.1h.9v.9h-.9zM325.7 50.8h.9v.9h-.9zM323.4 73.1h.9v.9h-.9zM327.7 65.1h.9v.9h-.9zM328.6 67.1h.9v.9h-.9zM326.8 64.0h.9v.9h-.9zM329.0 64.5h.9v.9h-.9zM325.6 66.1h.9v.9h-.9zM327.5 68.6h.9v.9h-.9zM323.9 60.5h.9v.9h-.9zM326.5 53.2h.9v.9h-.9zM326.8 58.0h.9v.9h-.9zM325.9 69.9h.9v.9h-.9zM330.1 59.5h.9v.9h-.9zM332.6 72.4h.9v.9h-.9zM328.1 51.6h.9v.9h-.9zM331.2 53.0h.9v.9h-.9zM328.0 69.4h.9v.9h-.9zM326.4 52.9h.9v.9h-.9zM325.3 68.4h.9v.9h-.9zM327.4 62.3h.9v.9h-.9zM323.8 70.6h.9v.9h-.9zM322.8 62.2h.9v.9h-.9zM333.7 73.2h.9v.9h-.9zM325.2 60.9h.9v.9h-.9zM320.8 68.4h.9v.9h-.9zM324.5 66.5h.9v.9h-.9zM325.2 55.8h.9v.9h-.9zM326.3 49.2h.9v.9h-.9zM325.9 67.8h.9v.9h-.9zM326.2 66.2h.9v.9h-.9zM326.5 73.1h.9v.9h-.9zM326.4 73.1h.9v.9h-.9zM329.0 72.7h.9v.9h-.9zM329.5 69.0h.9v.9h-.9zM333.5 70.6h.9v.9h-.9zM326.4 60.5h.9v.9h-.9zM327.9 54.9h.9v.9h-.9zM325.7 54.7h.9v.9h-.9zM323.8 71.1h.9v.9h-.9zM325.4 72.2h.9v.9h-.9zM328.8 55.9h.9v.9h-.9zM326.4 51.6h.9v.9h-.9zM321.0 69.2h.9v.9h-.9zM320.8 56.1h.9v.9h-.9zM323.5 73.0h.9v.9h-.9zM327.8 70.2h.9v.9h-.9zM324.0 54.3h.9v.9h-.9zM328.4 61.2h.9v.9h-.9zM330.8 64.8h.9v.9h-.9zM328.3 51.1h.9v.9h-.9zM324.2 72.1h.9v.9h-.9zM323.8 69.3h.9v.9h-.9zM327.5 58.5h.9v.9h-.9zM327.3 50.8h.9v.9h-.9zM327.6 68.4h.9v.9h-.9zM325.8 58.3h.9v.9h-.9zM322.0 72.8h.9v.9h-.9zM332.8 60.4h.9v.9h-.9zM324.7 55.6h.9v.9h-.9zM327.6 65.6h.9v.9h-.9zM326.9 56.1h.9v.9h-.9zM324.8 67.0h.9v.9h-.9zM321.1 64.2h.9v.9h-.9zM325.1 53.3h.9v.9h-.9zM325.4 72.3h.9v.9h-.9zM327.6 73.2h.9v.9h-.9zM328.8 72.9h.9v.9h-.9zM330.9 60.1h.9v.9h-.9zM326.9 55.1h.9v.9h-.9zM328.4 47.4h.9v.9h-.9zM327.6 53.9h.9v.9h-.9zM326.5 68.1h.9v.9h-.9zM326.4 61.2h.9v.9h-.9zM320.7 64.3h.9v.9h-.9zM318.3 68.3h.8v.8h-.8zM331.8 89.4h.8v.8h-.8zM335.2 82.5h.8v.8h-.8zM316.7 73.4h.8v.8h-.8zM330.8 88.4h.8v.8h-.8zM336.9 72.0h.8v.8h-.8zM324.6 79.3h.8v.8h-.8zM319.5 85.4h.8v.8h-.8zM336.1 83.9h.8v.8h-.8zM328.4 83.1h.8v.8h-.8zM326.9 79.8h.8v.8h-.8zM313.6 85.0h.8v.8h-.8zM309.4 82.1h.8v.8h-.8zM318.2 80.3h.8v.8h-.8zM326.5 78.5h.8v.8h-.8zM337.5 73.4h.8v.8h-.8zM305.9 88.8h.8v.8h-.8zM315.7 74.2h.8v.8h-.8zM319.1 81.1h.8v.8h-.8zM337.7 83.5h.8v.8h-.8zM315.9 79.7h.8v.8h-.8zM320.2 79.0h.8v.8h-.8zM319.2 71.8h.8v.8h-.8zM318.4 76.6h.8v.8h-.8zM312.1 85.8h.8v.8h-.8zM317.3 71.5h.8v.8h-.8zM324.0 86.4h.8v.8h-.8zM331.0 81.6h.8v.8h-.8zM329.4 75.5h.8v.8h-.8zM310.2 73.7h.8v.8h-.8zM316.9 74.2h.8v.8h-.8zM320.8 71.4h.8v.8h-.8zM309.8 73.7h.8v.8h-.8zM311.9 85.5h.8v.8h-.8zM323.1 72.5h.8v.8h-.8zM319.5 87.0h.8v.8h-.8zM324.4 80.2h.8v.8h-.8zM318.3 72.4h.8v.8h-.8zM326.0 69.9h.8v.8h-.8zM331.2 69.4h.8v.8h-.8zM329.9 76.5h.8v.8h-.8zM327.8 81.0h.8v.8h-.8zM309.7 79.8h.8v.8h-.8zM307.9 73.4h.8v.8h-.8zM318.0 74.4h.8v.8h-.8zM327.1 89.5h.8v.8h-.8zM317.2 86.3h.8v.8h-.8zM312.9 83.5h.8v.8h-.8zM316.9 79.8h.8v.8h-.8zM308.4 86.1h.8v.8h-.8zM312.3 78.2h.8v.8h-.8zM315.0 85.7h.8v.8h-.8zM324.9 81.5h.8v.8h-.8zM330.2 73.7h.8v.8h-.8zM307.4 86.1h.8v.8h-.8zM315.8 85.7h.8v.8h-.8zM336.8 81.8h.8v.8h-.8zM308.9 86.6h.8v.8h-.8zM326.2 73.5h.8v.8h-.8zM312.3 79.2h.8v.8h-.8zM309.5 87.8h.8v.8h-.8zM328.6 85.9h.8v.8h-.8zM318.1 88.1h.8v.8h-.8zM309.9 83.7h.8v.8h-.8zM313.8 68.3h.8v.8h-.8zM309.5 72.6h.8v.8h-.8zM330.5 76.4h.8v.8h-.8zM321.3 81.5h.8v.8h-.8zM314.3 82.0h.8v.8h-.8zM327.5 88.1h.8v.8h-.8z" fill="#111"/>
<text x="322" y="53.3" font-size="9" text-anchor="middle" fill="#2f6aa3" style="stroke:none">2.82</text>
<path d="M336.2 82.2L336.6 84.4L336.0 85.1L335.5 86.9L335.2 87.5L335.2 87.8L334.6 89.5L334.5 90.3L334.3 90.0L333.4 90.3L332.5 90.3L332.2 90.3L330.6 90.3L330.0 90.3L328.7 90.3L328.2 90.3L325.9 90.3L324.6 90.3L321.5 90.3L319.4 90.3L316.9 90.3L316.5 90.3L314.7 90.3L314.1 90.3L313.0 90.3L312.3 90.3L311.6 90.3L310.9 90.3L309.8 90.3L309.1 89.4L308.9 89.5L308.2 88.8L308.4 87.8L307.7 87.1L307.9 85.5L307.1 84.2L307.0 82.3L307.4 79.4L307.7 78.4L307.9 77.1L308.2 76.5L308.4 75.3L309.1 73.9L308.9 73.6L309.5 73.6L310.1 70.7L311.0 70.7L312.3 70.8L313.2 70.0L313.3 69.0L315.0 69.7L315.8 69.6L317.4 69.0L319.1 69.7L321.5 70.7L324.4 69.7L326.1 70.6L327.4 70.1L328.6 70.6L330.2 70.7L331.3 71.8L332.1 71.1L332.4 72.6L333.6 72.2L333.8 73.0L334.7 73.2L334.7 74.8L335.7 74.7L335.7 76.3L336.2 77.0L336.5 77.8L335.8 79.1Z" fill="#0a0a0a" stroke="#0a0a0a" stroke-width="1" stroke-linejoin="round"/>
<path d="M324.1 74.2h.7v.6h-.7zM315.9 75.4h.7v.6h-.7zM310.4 87.7h.7v.6h-.7zM317.6 87.7h.7v.6h-.7zM327.6 75.7h.7v.6h-.7zM333.0 72.4h.7v.6h-.7zM334.2 72.7h.7v.6h-.7zM315.5 81.1h.7v.6h-.7zM309.2 84.5h.7v.6h-.7zM311.2 85.4h.7v.6h-.7zM309.9 80.7h.7v.6h-.7zM314.4 76.8h.7v.6h-.7zM321.6 78.2h.7v.6h-.7zM319.1 82.7h.7v.6h-.7zM314.0 75.1h.7v.6h-.7zM326.6 77.0h.7v.6h-.7zM333.0 79.1h.7v.6h-.7zM321.2 72.6h.7v.6h-.7zM309.5 73.9h.7v.6h-.7zM325.1 82.9h.7v.6h-.7zM333.5 79.2h.7v.6h-.7zM327.2 77.7h.7v.6h-.7zM310.9 79.0h.7v.6h-.7zM327.0 85.1h.7v.6h-.7zM333.5 85.6h.7v.6h-.7zM323.5 81.1h.7v.6h-.7z" fill="#3c3c3c"/>
<path d="M302 29.4L312 64.0L322.5 71.5L338.5 69.5L343.3 29.4Z" fill="none" stroke="#50508e" stroke-width="0.85" stroke-linejoin="round"/>
<path d="M313.0 66.4L320.6 71.9L316.4 73.4L314.2 71.5Z" fill="#fff" opacity="0.8"/>
<path d="M287.3 29.0H363.5V90.3" fill="none" stroke="#b2b2b6" stroke-width="0.8"/>
<line x1="287.3" y1="29.0" x2="287.3" y2="90.3" stroke="#a2a2a8" stroke-width="0.9"/>
<line x1="286.90000000000003" y1="90.3" x2="363.5" y2="90.3" stroke="#48484c" stroke-width="1"/>
<text x="277.2" y="31.90" font-size="8.3" text-anchor="middle">10<tspan dy="-2.5" font-size="4.6">4</tspan></text>
<text x="286.90" y="100.20" font-size="8.3" text-anchor="middle">10<tspan dy="-2.5" font-size="4.6">0</tspan></text>
<line x1="285.7" y1="29.00" x2="287.3" y2="29.00" stroke="#8a8a8e" stroke-width="0.7"/>
<line x1="287.30" y1="90.3" x2="287.30" y2="91.89999999999999" stroke="#66666a" stroke-width="0.7"/>
<text x="277.2" y="47.23" font-size="8.3" text-anchor="middle">10<tspan dy="-2.5" font-size="4.6">3</tspan></text>
<text x="305.95" y="100.20" font-size="8.3" text-anchor="middle">10<tspan dy="-2.5" font-size="4.6">1</tspan></text>
<line x1="285.7" y1="44.33" x2="287.3" y2="44.33" stroke="#8a8a8e" stroke-width="0.7"/>
<line x1="306.35" y1="90.3" x2="306.35" y2="91.89999999999999" stroke="#66666a" stroke-width="0.7"/>
<text x="277.2" y="62.55" font-size="8.3" text-anchor="middle">10<tspan dy="-2.5" font-size="4.6">2</tspan></text>
<text x="325.00" y="100.20" font-size="8.3" text-anchor="middle">10<tspan dy="-2.5" font-size="4.6">2</tspan></text>
<line x1="285.7" y1="59.65" x2="287.3" y2="59.65" stroke="#8a8a8e" stroke-width="0.7"/>
<line x1="325.40" y1="90.3" x2="325.40" y2="91.89999999999999" stroke="#66666a" stroke-width="0.7"/>
<text x="277.2" y="77.88" font-size="8.3" text-anchor="middle">10<tspan dy="-2.5" font-size="4.6">1</tspan></text>
<text x="344.05" y="100.20" font-size="8.3" text-anchor="middle">10<tspan dy="-2.5" font-size="4.6">3</tspan></text>
<line x1="285.7" y1="74.97" x2="287.3" y2="74.97" stroke="#8a8a8e" stroke-width="0.7"/>
<line x1="344.45" y1="90.3" x2="344.45" y2="91.89999999999999" stroke="#66666a" stroke-width="0.7"/>
<text x="277.2" y="93.20" font-size="8.3" text-anchor="middle">10<tspan dy="-2.5" font-size="4.6">0</tspan></text>
<text x="363.10" y="100.20" font-size="8.3" text-anchor="middle">10<tspan dy="-2.5" font-size="4.6">4</tspan></text>
<line x1="285.7" y1="90.30" x2="287.3" y2="90.30" stroke="#8a8a8e" stroke-width="0.7"/>
<line x1="363.50" y1="90.3" x2="363.50" y2="91.89999999999999" stroke="#66666a" stroke-width="0.7"/>
<text x="324.5" y="116.5" font-size="8.6" letter-spacing="0.3" text-anchor="middle">d7</text>
<line x1="306.35" y1="121.2" x2="306.35" y2="182.5" stroke="#f0f0f5" stroke-width="0.8"/>
<line x1="287.3" y1="136.53" x2="363.5" y2="136.53" stroke="#f0f0f5" stroke-width="0.8"/>
<line x1="325.40" y1="121.2" x2="325.40" y2="182.5" stroke="#f0f0f5" stroke-width="0.8"/>
<line x1="287.3" y1="151.85" x2="363.5" y2="151.85" stroke="#f0f0f5" stroke-width="0.8"/>
<line x1="344.45" y1="121.2" x2="344.45" y2="182.5" stroke="#f0f0f5" stroke-width="0.8"/>
<line x1="287.3" y1="167.18" x2="363.5" y2="167.18" stroke="#f0f0f5" stroke-width="0.8"/>
<path d="M327.9 146.8h.9v.9h-.9zM326.2 165.4h.9v.9h-.9zM327.0 150.8h.9v.9h-.9zM322.7 163.1h.9v.9h-.9zM324.6 157.3h.9v.9h-.9zM324.3 164.9h.9v.9h-.9zM323.6 161.1h.9v.9h-.9zM328.9 145.4h.9v.9h-.9zM325.8 147.0h.9v.9h-.9zM325.8 163.7h.9v.9h-.9zM329.6 165.5h.9v.9h-.9zM327.1 163.0h.9v.9h-.9zM329.1 162.0h.9v.9h-.9zM325.1 158.4h.9v.9h-.9zM328.9 164.1h.9v.9h-.9zM326.9 165.0h.9v.9h-.9zM330.3 159.5h.9v.9h-.9zM326.5 164.7h.9v.9h-.9zM328.1 148.9h.9v.9h-.9zM324.8 148.5h.9v.9h-.9zM327.6 153.1h.9v.9h-.9zM326.2 145.9h.9v.9h-.9zM328.7 146.6h.9v.9h-.9zM329.9 154.4h.9v.9h-.9zM324.0 160.5h.9v.9h-.9zM327.0 147.9h.9v.9h-.9zM327.9 159.7h.9v.9h-.9zM325.9 149.3h.9v.9h-.9zM325.3 148.7h.9v.9h-.9zM327.9 148.0h.9v.9h-.9zM325.6 154.2h.9v.9h-.9zM326.8 162.9h.9v.9h-.9zM329.3 154.9h.9v.9h-.9zM331.6 163.7h.9v.9h-.9zM325.9 148.3h.9v.9h-.9zM331.8 154.7h.9v.9h-.9zM323.4 159.7h.9v.9h-.9zM326.5 157.8h.9v.9h-.9zM327.4 163.1h.9v.9h-.9zM329.2 147.6h.9v.9h-.9zM330.5 156.9h.9v.9h-.9zM328.8 154.1h.9v.9h-.9zM328.3 148.5h.9v.9h-.9zM330.8 165.5h.9v.9h-.9zM326.7 156.1h.9v.9h-.9zM328.5 149.5h.9v.9h-.9zM321.2 165.2h.9v.9h-.9zM325.8 164.0h.9v.9h-.9zM328.6 164.4h.9v.9h-.9zM325.6 154.4h.9v.9h-.9zM325.4 165.6h.9v.9h-.9zM328.0 155.6h.9v.9h-.9zM327.1 165.4h.9v.9h-.9zM326.9 154.0h.9v.9h-.9zM326.3 165.6h.9v.9h-.9zM331.5 164.9h.9v.9h-.9zM325.6 164.6h.9v.9h-.9zM323.9 165.5h.9v.9h-.9zM327.7 145.6h.9v.9h-.9zM327.2 162.6h.9v.9h-.9zM326.9 157.1h.9v.9h-.9zM325.4 162.7h.9v.9h-.9zM322.0 165.6h.9v.9h-.9zM328.1 153.7h.9v.9h-.9zM327.4 148.7h.9v.9h-.9zM323.0 154.7h.9v.9h-.9zM327.3 160.3h.9v.9h-.9zM330.4 163.0h.9v.9h-.9zM321.2 165.3h.9v.9h-.9zM328.3 165.1h.9v.9h-.9zM324.8 157.8h.9v.9h-.9zM328.6 165.0h.9v.9h-.9zM327.3 146.7h.9v.9h-.9zM330.1 161.3h.9v.9h-.9zM325.1 165.6h.9v.9h-.9zM326.0 165.5h.9v.9h-.9zM327.2 165.6h.9v.9h-.9zM327.8 156.6h.9v.9h-.9zM332.3 159.6h.9v.9h-.9zM327.2 145.4h.9v.9h-.9zM324.7 164.1h.9v.9h-.9zM327.5 157.7h.9v.9h-.9zM328.0 156.9h.9v.9h-.9zM322.6 163.8h.9v.9h-.9zM326.5 161.3h.9v.9h-.9zM326.5 165.5h.9v.9h-.9zM329.8 161.5h.9v.9h-.9zM329.3 164.0h.9v.9h-.9zM327.3 165.3h.9v.9h-.9zM328.3 164.3h.9v.9h-.9zM324.8 159.3h.9v.9h-.9zM327.4 156.4h.9v.9h-.9zM332.3 164.3h.9v.9h-.9zM324.2 154.1h.9v.9h-.9zM323.5 161.1h.9v.9h-.9zM326.2 165.5h.9v.9h-.9zM325.2 161.4h.9v.9h-.9zM326.2 165.3h.9v.9h-.9zM325.7 151.9h.9v.9h-.9zM328.8 148.0h.9v.9h-.9zM325.4 157.2h.9v.9h-.9zM333.7 162.2h.9v.9h-.9zM326.0 165.6h.9v.9h-.9zM325.5 163.2h.9v.9h-.9zM327.1 150.7h.9v.9h-.9zM326.4 160.7h.9v.9h-.9zM325.0 161.5h.9v.9h-.9zM327.0 157.7h.9v.9h-.9zM325.9 165.4h.9v.9h-.9zM328.8 147.5h.9v.9h-.9zM326.6 165.4h.9v.9h-.9zM325.4 158.1h.9v.9h-.9zM322.6 161.8h.9v.9h-.9zM327.7 161.8h.9v.9h-.9zM327.3 165.1h.9v.9h-.9zM327.7 150.4h.9v.9h-.9zM330.2 156.4h.9v.9h-.9zM325.4 165.6h.9v.9h-.9zM327.6 156.0h.9v.9h-.9zM323.0 159.8h.9v.9h-.9zM322.2 162.4h.9v.9h-.9zM327.9 163.7h.9v.9h-.9zM321.1 159.2h.9v.9h-.9zM327.8 151.8h.9v.9h-.9zM328.1 147.6h.9v.9h-.9zM324.6 164.1h.9v.9h-.9zM326.6 160.0h.9v.9h-.9zM329.2 155.4h.9v.9h-.9zM324.8 148.1h.9v.9h-.9zM323.9 165.3h.9v.9h-.9zM328.1 162.4h.9v.9h-.9zM326.7 161.4h.9v.9h-.9zM331.5 165.4h.9v.9h-.9zM329.0 145.6h.9v.9h-.9zM328.2 156.3h.9v.9h-.9zM328.2 164.1h.9v.9h-.9zM326.0 155.7h.9v.9h-.9zM324.5 159.2h.9v.9h-.9zM320.0 165.2h.9v.9h-.9zM325.9 153.3h.9v.9h-.9zM322.2 165.3h.9v.9h-.9zM326.2 163.8h.9v.9h-.9zM324.8 148.9h.9v.9h-.9zM327.6 161.6h.9v.9h-.9zM327.9 145.4h.9v.9h-.9zM323.0 165.0h.9v.9h-.9zM330.0 160.9h.9v.9h-.9zM327.7 149.3h.9v.9h-.9zM323.4 164.7h.9v.9h-.9zM326.5 161.6h.9v.9h-.9zM330.0 154.6h.9v.9h-.9zM325.3 160.3h.9v.9h-.9zM326.2 146.6h.9v.9h-.9zM330.0 156.0h.9v.9h-.9zM327.9 153.1h.9v.9h-.9zM325.7 156.9h.9v.9h-.9zM323.3 161.6h.9v.9h-.9zM321.8 156.6h.9v.9h-.9zM322.2 165.6h.9v.9h-.9zM327.9 149.3h.9v.9h-.9zM327.1 156.2h.9v.9h-.9zM327.1 147.2h.9v.9h-.9zM323.7 154.0h.9v.9h-.9zM325.1 149.2h.9v.9h-.9zM328.4 165.3h.9v.9h-.9zM322.3 164.5h.9v.9h-.9zM326.0 153.6h.9v.9h-.9zM326.6 151.8h.9v.9h-.9zM324.3 165.0h.9v.9h-.9zM324.7 163.9h.9v.9h-.9zM325.3 158.3h.9v.9h-.9zM327.6 146.4h.9v.9h-.9zM329.7 165.4h.9v.9h-.9zM327.3 150.8h.9v.9h-.9zM327.0 156.0h.9v.9h-.9zM324.6 155.6h.9v.9h-.9zM326.3 162.8h.9v.9h-.9zM329.8 165.6h.9v.9h-.9zM326.6 165.4h.9v.9h-.9zM325.9 153.4h.9v.9h-.9zM324.8 152.4h.9v.9h-.9zM328.7 152.3h.9v.9h-.9zM327.9 149.9h.9v.9h-.9zM327.8 162.0h.9v.9h-.9zM326.7 160.5h.9v.9h-.9zM327.2 158.5h.9v.9h-.9zM326.2 146.4h.9v.9h-.9zM329.0 162.0h.9v.9h-.9zM328.2 160.9h.9v.9h-.9zM325.6 156.2h.9v.9h-.9zM321.6 160.1h.9v.9h-.9zM325.0 165.4h.9v.9h-.9zM326.3 151.2h.9v.9h-.9zM329.7 152.1h.9v.9h-.9zM323.8 156.1h.9v.9h-.9zM329.8 165.3h.9v.9h-.9zM324.9 156.6h.9v.9h-.9zM328.6 150.3h.9v.9h-.9zM326.1 152.0h.9v.9h-.9zM324.9 164.1h.9v.9h-.9zM327.0 160.6h.9v.9h-.9zM328.6 146.7h.9v.9h-.9zM327.6 165.2h.9v.9h-.9zM324.4 162.3h.9v.9h-.9zM329.2 163.0h.9v.9h-.9zM327.9 164.8h.9v.9h-.9zM325.4 160.9h.9v.9h-.9zM330.6 148.0h.9v.9h-.9zM323.1 160.9h.9v.9h-.9zM322.0 162.9h.9v.9h-.9zM326.7 165.3h.9v.9h-.9zM328.3 155.5h.9v.9h-.9zM323.9 162.1h.9v.9h-.9zM330.3 164.1h.9v.9h-.9zM325.9 151.7h.9v.9h-.9zM325.9 151.2h.9v.9h-.9zM330.9 162.6h.9v.9h-.9zM323.0 159.7h.9v.9h-.9zM330.2 155.1h.9v.9h-.9zM326.1 153.4h.9v.9h-.9zM329.9 149.7h.9v.9h-.9zM326.5 146.0h.9v.9h-.9zM323.8 163.4h.9v.9h-.9zM324.0 162.2h.9v.9h-.9zM329.6 161.8h.9v.9h-.9zM332.4 162.5h.9v.9h-.9zM328.0 160.2h.9v.9h-.9zM326.8 146.6h.9v.9h-.9zM329.0 165.1h.9v.9h-.9zM327.1 162.4h.9v.9h-.9zM329.4 148.1h.9v.9h-.9zM323.9 161.0h.9v.9h-.9zM327.2 158.8h.9v.9h-.9zM331.4 161.9h.9v.9h-.9zM325.6 163.5h.9v.9h-.9zM325.5 163.0h.9v.9h-.9zM328.1 147.8h.9v.9h-.9zM327.4 164.4h.9v.9h-.9zM324.8 163.9h.9v.9h-.9zM327.6 162.6h.9v.9h-.9zM326.8 164.0h.9v.9h-.9zM330.2 162.7h.9v.9h-.9zM326.8 162.1h.9v.9h-.9zM325.6 165.0h.9v.9h-.9zM324.5 150.3h.9v.9h-.9zM328.6 165.1h.9v.9h-.9zM328.0 159.2h.9v.9h-.9zM325.7 152.9h.9v.9h-.9zM320.9 157.2h.9v.9h-.9zM332.0 161.8h.9v.9h-.9zM325.2 160.3h.9v.9h-.9zM326.2 150.8h.9v.9h-.9zM324.5 157.5h.9v.9h-.9zM326.5 145.7h.9v.9h-.9zM328.3 145.6h.9v.9h-.9zM324.4 161.5h.9v.9h-.9zM327.9 159.2h.9v.9h-.9zM327.7 145.4h.9v.9h-.9zM330.3 165.1h.9v.9h-.9zM326.4 148.2h.9v.9h-.9zM324.8 165.4h.9v.9h-.9zM331.2 165.6h.9v.9h-.9zM325.5 165.2h.9v.9h-.9zM327.9 165.0h.9v.9h-.9zM331.7 155.7h.9v.9h-.9zM330.1 156.2h.9v.9h-.9zM328.2 165.5h.9v.9h-.9zM325.7 160.1h.9v.9h-.9zM328.6 158.4h.9v.9h-.9zM329.0 165.5h.9v.9h-.9zM312.0 180.3h.8v.8h-.8zM332.4 171.8h.8v.8h-.8zM327.8 179.3h.8v.8h-.8zM310.1 171.1h.8v.8h-.8zM309.8 163.1h.8v.8h-.8zM309.0 165.1h.8v.8h-.8zM307.2 165.2h.8v.8h-.8zM317.9 173.9h.8v.8h-.8zM333.6 179.9h.8v.8h-.8zM329.0 171.5h.8v.8h-.8zM335.5 164.1h.8v.8h-.8zM308.9 178.1h.8v.8h-.8zM326.0 165.1h.8v.8h-.8zM317.8 167.0h.8v.8h-.8zM319.6 169.8h.8v.8h-.8zM318.5 177.7h.8v.8h-.8zM332.0 172.6h.8v.8h-.8zM321.0 166.7h.8v.8h-.8zM330.5 181.7h.8v.8h-.8zM313.0 175.6h.8v.8h-.8zM328.4 174.7h.8v.8h-.8zM306.5 172.4h.8v.8h-.8zM312.1 164.8h.8v.8h-.8zM324.5 174.4h.8v.8h-.8zM326.0 176.5h.8v.8h-.8zM328.5 170.8h.8v.8h-.8zM307.1 177.1h.8v.8h-.8zM332.4 178.5h.8v.8h-.8zM325.1 161.4h.8v.8h-.8zM311.9 162.9h.8v.8h-.8zM326.3 172.2h.8v.8h-.8zM311.6 181.1h.8v.8h-.8zM337.5 179.8h.8v.8h-.8zM320.7 166.8h.8v.8h-.8zM312.3 178.2h.8v.8h-.8zM328.4 166.5h.8v.8h-.8zM335.0 172.8h.8v.8h-.8zM319.0 169.5h.8v.8h-.8zM329.1 170.3h.8v.8h-.8zM327.1 163.2h.8v.8h-.8zM328.5 166.4h.8v.8h-.8zM335.3 165.2h.8v.8h-.8zM316.4 172.1h.8v.8h-.8zM318.3 171.8h.8v.8h-.8zM335.7 164.9h.8v.8h-.8zM330.8 175.4h.8v.8h-.8zM331.2 170.2h.8v.8h-.8zM320.4 168.0h.8v.8h-.8zM321.0 166.0h.8v.8h-.8zM311.7 170.8h.8v.8h-.8zM311.8 170.6h.8v.8h-.8zM324.2 167.2h.8v.8h-.8zM311.1 173.5h.8v.8h-.8zM333.6 165.4h.8v.8h-.8zM325.6 174.7h.8v.8h-.8zM334.4 175.2h.8v.8h-.8zM315.6 165.0h.8v.8h-.8zM332.9 167.0h.8v.8h-.8zM305.9 179.2h.8v.8h-.8zM312.0 167.3h.8v.8h-.8zM315.9 166.1h.8v.8h-.8zM329.2 167.9h.8v.8h-.8zM319.9 169.6h.8v.8h-.8zM332.8 161.0h.8v.8h-.8zM324.5 163.4h.8v.8h-.8zM310.4 173.6h.8v.8h-.8zM317.8 162.0h.8v.8h-.8zM324.7 180.2h.8v.8h-.8zM326.6 171.2h.8v.8h-.8zM331.7 180.2h.8v.8h-.8z" fill="#111"/>
<text x="322" y="145.5" font-size="9" text-anchor="middle" fill="#2f6aa3" style="stroke:none">2.72</text>
<path d="M335.9 174.0L336.6 177.0L335.8 178.1L336.2 179.0L335.8 179.9L335.0 180.4L334.4 181.7L334.1 182.4L333.8 182.5L333.7 182.5L332.5 182.5L331.5 182.5L330.9 182.5L329.5 182.5L329.0 182.5L327.9 182.5L326.3 182.5L324.7 182.5L322.1 182.5L319.2 182.5L317.1 182.5L316.0 182.5L314.5 182.5L313.8 182.5L313.0 182.5L311.5 182.5L310.7 182.5L310.4 182.5L309.6 182.5L309.3 182.5L308.7 181.3L308.8 180.9L307.7 180.2L307.7 179.4L307.8 178.2L307.9 176.5L308.0 173.6L307.4 172.3L307.2 170.8L308.3 169.7L308.4 168.0L308.5 167.8L308.7 166.8L309.6 165.8L309.4 165.7L310.9 164.0L311.3 162.8L312.3 162.1L312.6 162.6L314.2 161.8L315.2 161.2L316.1 160.9L317.1 160.9L318.5 162.5L321.9 162.3L324.8 162.1L326.3 162.8L327.6 163.4L328.5 163.0L329.9 163.2L331.4 163.7L331.8 164.0L332.5 165.0L333.5 165.2L333.5 165.7L334.0 166.0L334.4 167.1L335.8 167.8L335.7 168.2L335.8 169.4L336.0 170.3L335.9 172.2Z" fill="#0a0a0a" stroke="#0a0a0a" stroke-width="1" stroke-linejoin="round"/>
<path d="M333.5 177.7h.7v.6h-.7zM325.0 165.0h.7v.6h-.7zM316.8 178.0h.7v.6h-.7zM334.0 173.3h.7v.6h-.7zM323.6 175.5h.7v.6h-.7zM315.4 175.9h.7v.6h-.7zM318.4 178.1h.7v.6h-.7zM320.9 175.1h.7v.6h-.7zM323.3 173.1h.7v.6h-.7zM320.8 179.7h.7v.6h-.7zM328.4 171.3h.7v.6h-.7zM322.0 178.9h.7v.6h-.7zM328.2 175.0h.7v.6h-.7zM333.6 166.5h.7v.6h-.7zM324.4 174.5h.7v.6h-.7zM320.7 179.9h.7v.6h-.7zM333.9 170.8h.7v.6h-.7zM324.8 176.8h.7v.6h-.7zM326.9 170.4h.7v.6h-.7zM329.5 170.1h.7v.6h-.7zM312.8 175.2h.7v.6h-.7zM325.7 171.1h.7v.6h-.7zM321.8 180.3h.7v.6h-.7zM329.8 171.1h.7v.6h-.7zM332.4 173.7h.7v.6h-.7zM319.4 174.9h.7v.6h-.7z" fill="#3c3c3c"/>
<path d="M302 121.6L312 156.2L322.5 163.7L338.5 161.7L343.3 121.6Z" fill="none" stroke="#56568e" stroke-width="0.85" stroke-linejoin="round"/>
<path d="M313.0 158.6L320.6 164.1L316.4 165.6L314.2 163.7Z" fill="#fff" opacity="0.8"/>
<path d="M287.3 121.2H363.5V182.5" fill="none" stroke="#b2b2b6" stroke-width="0.8"/>
<line x1="287.3" y1="121.2" x2="287.3" y2="182.5" stroke="#a2a2a8" stroke-width="0.9"/>
<line x1="286.90000000000003" y1="182.5" x2="363.5" y2="182.5" stroke="#48484c" stroke-width="1"/>
<text x="277.2" y="124.10" font-size="8.3" text-anchor="middle">10<tspan dy="-2.5" font-size="4.6">4</tspan></text>
<text x="286.90" y="192.40" font-size="8.3" text-anchor="middle">10<tspan dy="-2.5" font-size="4.6">0</tspan></text>
<line x1="285.7" y1="121.20" x2="287.3" y2="121.20" stroke="#8a8a8e" stroke-width="0.7"/>
<line x1="287.30" y1="182.5" x2="287.30" y2="184.1" stroke="#66666a" stroke-width="0.7"/>
<text x="277.2" y="139.43" font-size="8.3" text-anchor="middle">10<tspan dy="-2.5" font-size="4.6">3</tspan></text>
<text x="305.95" y="192.40" font-size="8.3" text-anchor="middle">10<tspan dy="-2.5" font-size="4.6">1</tspan></text>
<line x1="285.7" y1="136.53" x2="287.3" y2="136.53" stroke="#8a8a8e" stroke-width="0.7"/>
<line x1="306.35" y1="182.5" x2="306.35" y2="184.1" stroke="#66666a" stroke-width="0.7"/>
<text x="277.2" y="154.75" font-size="8.3" text-anchor="middle">10<tspan dy="-2.5" font-size="4.6">2</tspan></text>
<text x="325.00" y="192.40" font-size="8.3" text-anchor="middle">10<tspan dy="-2.5" font-size="4.6">2</tspan></text>
<line x1="285.7" y1="151.85" x2="287.3" y2="151.85" stroke="#8a8a8e" stroke-width="0.7"/>
<line x1="325.40" y1="182.5" x2="325.40" y2="184.1" stroke="#66666a" stroke-width="0.7"/>
<text x="277.2" y="170.08" font-size="8.3" text-anchor="middle">10<tspan dy="-2.5" font-size="4.6">1</tspan></text>
<text x="344.05" y="192.40" font-size="8.3" text-anchor="middle">10<tspan dy="-2.5" font-size="4.6">3</tspan></text>
<line x1="285.7" y1="167.18" x2="287.3" y2="167.18" stroke="#8a8a8e" stroke-width="0.7"/>
<line x1="344.45" y1="182.5" x2="344.45" y2="184.1" stroke="#66666a" stroke-width="0.7"/>
<text x="277.2" y="185.40" font-size="8.3" text-anchor="middle">10<tspan dy="-2.5" font-size="4.6">0</tspan></text>
<text x="363.10" y="192.40" font-size="8.3" text-anchor="middle">10<tspan dy="-2.5" font-size="4.6">4</tspan></text>
<line x1="285.7" y1="182.50" x2="287.3" y2="182.50" stroke="#8a8a8e" stroke-width="0.7"/>
<line x1="363.50" y1="182.5" x2="363.50" y2="184.1" stroke="#66666a" stroke-width="0.7"/>
<text x="324.5" y="207.9" font-size="8.6" letter-spacing="0.3" text-anchor="middle">d0</text>
<line x1="306.35" y1="212.6" x2="306.35" y2="273.9" stroke="#f0f0f5" stroke-width="0.8"/>
<line x1="287.3" y1="227.92" x2="363.5" y2="227.92" stroke="#f0f0f5" stroke-width="0.8"/>
<line x1="325.40" y1="212.6" x2="325.40" y2="273.9" stroke="#f0f0f5" stroke-width="0.8"/>
<line x1="287.3" y1="243.25" x2="363.5" y2="243.25" stroke="#f0f0f5" stroke-width="0.8"/>
<line x1="344.45" y1="212.6" x2="344.45" y2="273.9" stroke="#f0f0f5" stroke-width="0.8"/>
<line x1="287.3" y1="258.57" x2="363.5" y2="258.57" stroke="#f0f0f5" stroke-width="0.8"/>
<path d="M319.6 254.0h.9v.9h-.9zM323.0 242.9h.9v.9h-.9zM324.5 242.0h.9v.9h-.9zM324.4 231.9h.9v.9h-.9zM325.0 253.6h.9v.9h-.9zM336.5 247.9h.9v.9h-.9zM320.2 231.9h.9v.9h-.9zM324.5 255.5h.9v.9h-.9zM326.8 241.6h.9v.9h-.9zM321.3 236.8h.9v.9h-.9zM329.2 240.0h.9v.9h-.9zM326.3 243.4h.9v.9h-.9zM331.8 252.7h.9v.9h-.9zM325.3 247.8h.9v.9h-.9zM327.7 237.8h.9v.9h-.9zM321.6 227.3h.9v.9h-.9zM325.1 250.2h.9v.9h-.9zM321.8 226.4h.9v.9h-.9zM325.5 229.7h.9v.9h-.9zM324.9 254.4h.9v.9h-.9zM321.4 224.7h.9v.9h-.9zM325.9 252.7h.9v.9h-.9zM321.1 246.6h.9v.9h-.9zM326.1 243.6h.9v.9h-.9zM328.4 243.7h.9v.9h-.9zM322.2 226.8h.9v.9h-.9zM328.4 230.9h.9v.9h-.9zM323.2 255.3h.9v.9h-.9zM330.1 230.6h.9v.9h-.9zM322.1 244.3h.9v.9h-.9zM325.5 238.1h.9v.9h-.9zM330.5 244.1h.9v.9h-.9zM331.2 253.1h.9v.9h-.9zM326.2 223.2h.9v.9h-.9zM324.9 256.2h.9v.9h-.9zM319.3 255.5h.9v.9h-.9zM324.6 252.8h.9v.9h-.9zM314.6 256.5h.9v.9h-.9zM329.3 242.4h.9v.9h-.9zM325.5 252.0h.9v.9h-.9zM327.4 229.5h.9v.9h-.9zM324.2 222.7h.9v.9h-.9zM328.6 252.5h.9v.9h-.9zM326.3 256.5h.9v.9h-.9zM318.6 254.8h.9v.9h-.9zM326.8 255.4h.9v.9h-.9zM326.1 256.5h.9v.9h-.9zM322.9 225.1h.9v.9h-.9zM322.2 228.7h.9v.9h-.9zM326.7 246.1h.9v.9h-.9zM320.3 241.2h.9v.9h-.9zM321.4 242.2h.9v.9h-.9zM321.8 226.1h.9v.9h-.9zM323.9 237.8h.9v.9h-.9zM319.9 254.0h.9v.9h-.9zM333.6 246.1h.9v.9h-.9zM327.7 245.1h.9v.9h-.9zM324.1 243.8h.9v.9h-.9zM318.8 256.6h.9v.9h-.9zM319.3 256.4h.9v.9h-.9zM318.8 241.9h.9v.9h-.9zM325.0 251.4h.9v.9h-.9zM324.0 238.4h.9v.9h-.9zM322.6 256.4h.9v.9h-.9zM326.5 239.8h.9v.9h-.9zM323.1 248.3h.9v.9h-.9zM322.4 243.3h.9v.9h-.9zM327.2 252.4h.9v.9h-.9zM320.8 250.9h.9v.9h-.9zM321.7 250.7h.9v.9h-.9zM328.0 235.2h.9v.9h-.9zM324.8 237.1h.9v.9h-.9zM324.9 252.5h.9v.9h-.9zM331.2 254.0h.9v.9h-.9zM317.4 254.9h.9v.9h-.9zM326.2 256.0h.9v.9h-.9zM319.7 252.2h.9v.9h-.9zM330.2 248.9h.9v.9h-.9zM325.5 230.9h.9v.9h-.9zM326.7 240.9h.9v.9h-.9zM322.5 229.3h.9v.9h-.9zM324.5 255.8h.9v.9h-.9zM326.3 245.8h.9v.9h-.9zM329.0 231.8h.9v.9h-.9zM322.1 255.0h.9v.9h-.9zM330.1 241.3h.9v.9h-.9zM323.3 233.5h.9v.9h-.9zM325.4 252.9h.9v.9h-.9zM323.8 234.2h.9v.9h-.9zM327.3 249.6h.9v.9h-.9zM316.2 249.5h.9v.9h-.9zM328.8 255.4h.9v.9h-.9zM332.1 256.6h.9v.9h-.9zM322.8 223.4h.9v.9h-.9zM332.3 249.0h.9v.9h-.9zM320.5 254.3h.9v.9h-.9zM326.5 236.6h.9v.9h-.9zM319.1 246.2h.9v.9h-.9zM322.0 253.0h.9v.9h-.9zM326.2 256.3h.9v.9h-.9zM322.4 243.5h.9v.9h-.9zM331.4 256.5h.9v.9h-.9zM322.3 228.3h.9v.9h-.9zM318.7 228.7h.9v.9h-.9zM324.0 228.5h.9v.9h-.9zM323.9 236.6h.9v.9h-.9zM321.6 255.2h.9v.9h-.9zM329.1 245.9h.9v.9h-.9zM328.8 249.7h.9v.9h-.9zM321.5 251.7h.9v.9h-.9zM326.7 253.7h.9v.9h-.9zM321.5 234.7h.9v.9h-.9zM325.3 251.4h.9v.9h-.9zM327.6 233.0h.9v.9h-.9zM326.1 255.2h.9v.9h-.9zM317.8 233.5h.9v.9h-.9zM328.3 232.6h.9v.9h-.9zM324.4 230.5h.9v.9h-.9zM323.0 256.4h.9v.9h-.9zM326.7 245.9h.9v.9h-.9zM316.9 249.4h.9v.9h-.9zM324.8 256.6h.9v.9h-.9zM325.1 256.4h.9v.9h-.9zM325.1 256.3h.9v.9h-.9zM325.1 224.1h.9v.9h-.9zM322.5 246.8h.9v.9h-.9zM322.1 252.3h.9v.9h-.9zM326.9 241.1h.9v.9h-.9zM322.4 243.6h.9v.9h-.9zM325.7 252.0h.9v.9h-.9zM317.0 255.8h.9v.9h-.9zM321.5 250.6h.9v.9h-.9zM325.4 256.2h.9v.9h-.9zM327.0 242.9h.9v.9h-.9zM320.2 234.7h.9v.9h-.9zM328.2 242.1h.9v.9h-.9zM320.5 249.1h.9v.9h-.9zM326.8 238.6h.9v.9h-.9zM322.2 249.5h.9v.9h-.9zM319.1 253.9h.9v.9h-.9zM323.3 245.5h.9v.9h-.9zM322.3 249.3h.9v.9h-.9zM330.5 249.3h.9v.9h-.9zM317.1 250.8h.9v.9h-.9zM324.8 228.6h.9v.9h-.9zM320.8 248.1h.9v.9h-.9zM326.0 255.8h.9v.9h-.9zM320.7 229.2h.9v.9h-.9zM321.8 234.2h.9v.9h-.9zM318.7 244.5h.9v.9h-.9zM323.1 256.0h.9v.9h-.9zM323.3 255.6h.9v.9h-.9zM325.4 235.1h.9v.9h-.9zM324.0 256.1h.9v.9h-.9zM324.5 229.6h.9v.9h-.9zM324.8 231.7h.9v.9h-.9zM327.2 255.8h.9v.9h-.9zM320.7 232.0h.9v.9h-.9zM320.6 225.5h.9v.9h-.9zM319.7 256.5h.9v.9h-.9zM319.3 235.5h.9v.9h-.9zM323.0 256.0h.9v.9h-.9zM325.1 236.4h.9v.9h-.9zM323.0 252.1h.9v.9h-.9zM325.1 244.5h.9v.9h-.9zM320.7 255.1h.9v.9h-.9zM318.3 253.8h.9v.9h-.9zM319.2 250.2h.9v.9h-.9zM320.6 251.0h.9v.9h-.9zM325.9 249.5h.9v.9h-.9zM311.6 256.2h.9v.9h-.9zM323.7 249.7h.9v.9h-.9zM326.6 236.5h.9v.9h-.9zM328.1 236.0h.9v.9h-.9zM320.2 239.9h.9v.9h-.9zM323.5 241.2h.9v.9h-.9zM325.0 228.6h.9v.9h-.9zM325.2 236.4h.9v.9h-.9zM321.6 227.5h.9v.9h-.9zM323.7 237.8h.9v.9h-.9zM323.2 255.0h.9v.9h-.9zM326.3 243.6h.9v.9h-.9zM324.3 252.4h.9v.9h-.9zM328.1 225.4h.9v.9h-.9zM322.4 252.8h.9v.9h-.9zM321.5 231.0h.9v.9h-.9zM323.6 243.7h.9v.9h-.9zM326.6 256.6h.9v.9h-.9zM322.0 247.5h.9v.9h-.9zM325.3 251.2h.9v.9h-.9zM324.0 252.2h.9v.9h-.9zM323.2 223.1h.9v.9h-.9zM320.2 247.5h.9v.9h-.9zM322.4 232.0h.9v.9h-.9zM321.1 232.7h.9v.9h-.9zM322.8 237.7h.9v.9h-.9zM320.6 230.9h.9v.9h-.9zM326.7 225.0h.9v.9h-.9zM324.1 248.0h.9v.9h-.9zM326.4 237.9h.9v.9h-.9zM330.3 239.8h.9v.9h-.9zM321.4 254.0h.9v.9h-.9zM323.4 254.9h.9v.9h-.9zM326.1 238.5h.9v.9h-.9zM326.0 230.8h.9v.9h-.9zM323.0 230.4h.9v.9h-.9zM317.7 252.4h.9v.9h-.9zM326.8 256.2h.9v.9h-.9zM325.4 256.1h.9v.9h-.9zM320.7 251.3h.9v.9h-.9zM323.7 243.8h.9v.9h-.9zM323.2 251.9h.9v.9h-.9zM321.0 249.0h.9v.9h-.9zM324.1 243.6h.9v.9h-.9zM322.1 225.3h.9v.9h-.9zM327.0 255.9h.9v.9h-.9zM322.6 253.3h.9v.9h-.9zM323.2 229.2h.9v.9h-.9zM329.4 228.0h.9v.9h-.9zM329.2 250.8h.9v.9h-.9zM324.2 235.2h.9v.9h-.9zM321.2 239.8h.9v.9h-.9zM324.9 240.8h.9v.9h-.9zM321.8 236.1h.9v.9h-.9zM323.1 224.9h.9v.9h-.9zM318.7 255.9h.9v.9h-.9zM320.1 247.1h.9v.9h-.9zM328.3 239.7h.9v.9h-.9zM326.0 244.4h.9v.9h-.9zM328.5 241.8h.9v.9h-.9zM328.4 255.1h.9v.9h-.9zM319.4 255.8h.9v.9h-.9zM325.8 226.7h.9v.9h-.9zM326.3 237.8h.9v.9h-.9zM319.1 243.1h.9v.9h-.9zM321.8 248.3h.9v.9h-.9zM324.3 252.4h.9v.9h-.9zM325.1 238.0h.9v.9h-.9zM319.2 236.1h.9v.9h-.9zM321.9 251.2h.9v.9h-.9zM317.2 253.5h.9v.9h-.9zM329.5 256.5h.9v.9h-.9zM323.9 246.7h.9v.9h-.9zM330.7 251.4h.9v.9h-.9zM319.4 251.9h.9v.9h-.9zM326.3 235.3h.9v.9h-.9zM324.8 251.4h.9v.9h-.9zM321.9 253.4h.9v.9h-.9zM329.3 256.1h.9v.9h-.9zM327.7 237.4h.9v.9h-.9zM325.2 255.0h.9v.9h-.9zM327.1 236.7h.9v.9h-.9zM324.2 233.0h.9v.9h-.9zM317.7 255.5h.9v.9h-.9zM325.4 250.1h.9v.9h-.9zM328.0 244.3h.9v.9h-.9zM323.5 254.7h.9v.9h-.9zM331.2 256.5h.9v.9h-.9zM329.8 233.7h.9v.9h-.9zM317.4 250.6h.9v.9h-.9zM319.3 244.9h.9v.9h-.9zM322.8 224.0h.9v.9h-.9zM322.0 239.3h.9v.9h-.9zM331.0 247.4h.9v.9h-.9zM323.9 243.0h.9v.9h-.9zM323.9 235.3h.9v.9h-.9zM319.9 240.4h.9v.9h-.9zM324.0 248.2h.9v.9h-.9zM322.4 254.8h.9v.9h-.9zM323.6 246.8h.9v.9h-.9zM319.8 241.1h.9v.9h-.9zM325.5 225.1h.9v.9h-.9zM327.4 228.9h.9v.9h-.9zM328.6 242.1h.9v.9h-.9zM321.4 256.4h.9v.9h-.9zM326.0 256.3h.9v.9h-.9zM326.8 245.4h.9v.9h-.9zM323.3 230.1h.9v.9h-.9zM328.3 239.0h.9v.9h-.9zM329.2 243.0h.9v.9h-.9zM323.5 226.9h.9v.9h-.9zM317.0 251.6h.9v.9h-.9zM329.5 233.5h.9v.9h-.9zM320.5 248.9h.9v.9h-.9zM322.6 236.0h.9v.9h-.9zM323.7 256.5h.9v.9h-.9zM324.3 256.3h.9v.9h-.9zM325.9 246.9h.9v.9h-.9zM320.7 238.7h.9v.9h-.9zM323.1 241.0h.9v.9h-.9zM316.8 252.6h.9v.9h-.9zM325.2 250.0h.9v.9h-.9zM329.1 255.0h.9v.9h-.9zM319.8 251.0h.9v.9h-.9zM318.3 250.9h.9v.9h-.9zM322.5 254.3h.9v.9h-.9zM325.5 256.6h.9v.9h-.9zM330.9 255.6h.9v.9h-.9zM324.6 248.2h.9v.9h-.9zM326.3 255.2h.9v.9h-.9zM324.2 250.0h.9v.9h-.9zM324.4 256.0h.9v.9h-.9zM322.0 255.2h.9v.9h-.9zM323.6 256.6h.9v.9h-.9zM318.6 248.6h.9v.9h-.9zM327.3 256.4h.9v.9h-.9zM323.0 250.0h.9v.9h-.9zM324.8 224.7h.9v.9h-.9zM327.6 254.4h.9v.9h-.9zM326.3 255.3h.9v.9h-.9zM322.9 242.1h.9v.9h-.9zM325.4 256.4h.9v.9h-.9zM323.2 237.4h.9v.9h-.9zM330.5 248.0h.9v.9h-.9zM323.8 226.6h.9v.9h-.9zM326.6 253.5h.9v.9h-.9zM322.4 233.1h.9v.9h-.9zM320.6 256.1h.9v.9h-.9zM328.4 239.5h.9v.9h-.9zM322.4 256.6h.9v.9h-.9zM325.8 256.5h.9v.9h-.9zM325.0 256.5h.9v.9h-.9zM318.1 256.4h.9v.9h-.9zM315.9 254.7h.9v.9h-.9zM320.3 224.2h.9v.9h-.9zM325.0 227.5h.9v.9h-.9zM326.4 226.2h.9v.9h-.9zM324.6 242.8h.9v.9h-.9zM326.1 225.8h.9v.9h-.9zM325.5 231.2h.9v.9h-.9zM320.5 255.9h.9v.9h-.9zM325.9 239.6h.9v.9h-.9zM326.2 226.8h.9v.9h-.9zM328.7 237.1h.9v.9h-.9zM318.2 232.0h.9v.9h-.9zM320.6 251.1h.9v.9h-.9zM324.6 249.6h.9v.9h-.9zM330.4 247.5h.9v.9h-.9zM326.9 253.4h.9v.9h-.9zM328.9 242.8h.9v.9h-.9zM321.2 238.2h.9v.9h-.9zM326.8 255.4h.9v.9h-.9zM327.6 238.2h.9v.9h-.9zM324.6 235.9h.9v.9h-.9zM326.0 239.7h.9v.9h-.9zM325.4 231.6h.9v.9h-.9zM329.0 241.3h.9v.9h-.9zM318.2 248.5h.9v.9h-.9zM324.1 228.6h.9v.9h-.9zM320.0 250.9h.9v.9h-.9zM314.6 256.3h.9v.9h-.9zM330.0 256.0h.9v.9h-.9zM325.0 244.3h.9v.9h-.9zM324.9 241.0h.9v.9h-.9zM325.9 254.0h.9v.9h-.9zM324.6 241.2h.9v.9h-.9zM326.5 243.6h.9v.9h-.9zM324.6 224.6h.9v.9h-.9zM319.4 254.4h.9v.9h-.9zM322.9 234.8h.9v.9h-.9zM323.4 268.8h.8v.8h-.8zM321.0 255.7h.8v.8h-.8zM308.2 253.3h.8v.8h-.8zM331.4 254.1h.8v.8h-.8zM302.7 272.7h.8v.8h-.8zM308.9 271.1h.8v.8h-.8zM304.9 261.7h.8v.8h-.8zM309.8 269.7h.8v.8h-.8zM323.8 265.6h.8v.8h-.8zM329.1 270.6h.8v.8h-.8zM314.2 264.7h.8v.8h-.8zM317.8 254.0h.8v.8h-.8zM331.7 264.6h.8v.8h-.8zM331.0 256.1h.8v.8h-.8zM321.1 261.7h.8v.8h-.8zM327.9 253.3h.8v.8h-.8zM314.2 262.2h.8v.8h-.8zM304.4 263.6h.8v.8h-.8zM328.1 260.8h.8v.8h-.8zM325.0 264.8h.8v.8h-.8zM309.5 259.2h.8v.8h-.8zM337.4 258.9h.8v.8h-.8zM317.2 253.4h.8v.8h-.8zM309.6 255.2h.8v.8h-.8zM335.1 267.4h.8v.8h-.8zM333.1 273.1h.8v.8h-.8zM323.7 271.9h.8v.8h-.8zM321.0 260.7h.8v.8h-.8zM335.7 271.3h.8v.8h-.8zM335.8 262.2h.8v.8h-.8zM329.5 260.5h.8v.8h-.8zM337.5 271.7h.8v.8h-.8zM312.3 272.0h.8v.8h-.8zM308.4 253.7h.8v.8h-.8zM327.7 258.0h.8v.8h-.8zM320.4 265.5h.8v.8h-.8zM303.3 267.8h.8v.8h-.8zM311.7 261.0h.8v.8h-.8zM314.1 267.8h.8v.8h-.8zM328.5 257.9h.8v.8h-.8zM305.5 258.1h.8v.8h-.8zM316.5 253.3h.8v.8h-.8zM307.3 268.2h.8v.8h-.8zM326.9 272.9h.8v.8h-.8zM336.9 270.7h.8v.8h-.8zM315.1 255.1h.8v.8h-.8zM313.0 261.7h.8v.8h-.8zM320.6 263.4h.8v.8h-.8zM314.7 270.2h.8v.8h-.8zM312.0 261.7h.8v.8h-.8zM333.5 269.2h.8v.8h-.8zM312.4 256.9h.8v.8h-.8zM330.7 251.8h.8v.8h-.8zM306.5 263.2h.8v.8h-.8zM321.0 255.2h.8v.8h-.8zM303.6 256.0h.8v.8h-.8zM329.4 261.8h.8v.8h-.8zM336.9 268.7h.8v.8h-.8zM336.9 252.4h.8v.8h-.8zM308.4 251.9h.8v.8h-.8zM317.3 259.0h.8v.8h-.8zM303.6 263.5h.8v.8h-.8zM305.2 258.4h.8v.8h-.8zM310.7 269.1h.8v.8h-.8zM316.8 257.3h.8v.8h-.8zM303.4 261.0h.8v.8h-.8zM324.3 266.3h.8v.8h-.8zM334.5 269.2h.8v.8h-.8zM310.7 254.6h.8v.8h-.8zM328.9 268.8h.8v.8h-.8z" fill="#111"/>
<text x="322" y="235.6" font-size="9" text-anchor="middle" fill="#2f6aa3" style="stroke:none">2.7</text>
<path d="M335.6 265.6L335.6 267.2L335.1 268.2L335.4 270.4L335.4 270.8L334.8 272.2L334.5 272.6L333.5 273.2L332.7 273.5L332.5 273.9L331.6 273.9L330.5 273.9L330.0 273.9L329.1 273.9L327.3 273.9L326.1 273.9L325.0 273.9L322.9 273.9L319.8 273.9L316.6 273.9L315.0 273.9L312.8 273.9L311.8 273.9L311.1 273.9L309.8 273.9L309.1 273.9L307.7 273.9L306.9 273.9L306.8 273.9L305.6 273.1L305.0 272.1L304.6 272.3L304.0 270.5L303.9 269.4L304.0 269.1L304.2 267.6L304.1 264.6L303.6 263.5L303.5 261.3L304.1 260.2L304.5 259.0L304.5 259.2L304.9 258.4L305.5 257.8L306.6 256.7L306.7 254.1L308.1 253.7L308.4 254.0L310.1 252.7L311.2 253.0L311.8 252.2L313.1 253.1L314.5 251.9L316.2 253.2L319.6 254.1L322.4 253.3L325.1 254.3L326.6 253.6L327.3 254.6L328.6 254.6L329.5 254.1L330.5 255.3L331.8 255.6L332.3 256.0L333.0 256.6L334.0 256.8L334.2 258.4L334.9 258.3L335.4 259.9L334.9 260.2L335.1 261.1L336.0 262.8Z" fill="#0a0a0a" stroke="#0a0a0a" stroke-width="1" stroke-linejoin="round"/>
<path d="M330.4 257.5h.7v.6h-.7zM305.7 269.8h.7v.6h-.7zM328.2 271.8h.7v.6h-.7zM325.0 264.2h.7v.6h-.7zM327.4 257.1h.7v.6h-.7zM320.9 262.8h.7v.6h-.7zM309.5 265.4h.7v.6h-.7zM314.6 263.9h.7v.6h-.7zM316.1 260.8h.7v.6h-.7zM315.6 265.4h.7v.6h-.7zM333.5 270.9h.7v.6h-.7zM330.1 269.2h.7v.6h-.7zM313.6 271.5h.7v.6h-.7zM313.1 257.6h.7v.6h-.7zM319.7 267.5h.7v.6h-.7zM315.1 266.1h.7v.6h-.7zM313.4 271.4h.7v.6h-.7zM318.3 263.4h.7v.6h-.7zM320.6 269.9h.7v.6h-.7zM333.7 264.2h.7v.6h-.7zM318.0 265.7h.7v.6h-.7zM307.3 262.5h.7v.6h-.7zM329.7 268.3h.7v.6h-.7zM307.0 269.5h.7v.6h-.7zM316.4 271.6h.7v.6h-.7zM315.9 259.1h.7v.6h-.7z" fill="#3c3c3c"/>
<path d="M302 213.0L312 248.6L322.5 256.1L338.5 254.1L343.3 213.0Z" fill="none" stroke="#a0a0c6" stroke-width="1.1" stroke-linejoin="round"/>
<path d="M313.0 250.0L320.6 255.5L316.4 257.0L314.2 255.1Z" fill="#fff" opacity="0.8"/>
<path d="M287.3 212.6H363.5V273.9" fill="none" stroke="#b2b2b6" stroke-width="0.8"/>
<line x1="287.3" y1="212.6" x2="287.3" y2="273.9" stroke="#a2a2a8" stroke-width="0.9"/>
<line x1="286.90000000000003" y1="273.9" x2="363.5" y2="273.9" stroke="#48484c" stroke-width="1"/>
<text x="277.2" y="215.50" font-size="8.3" text-anchor="middle">10<tspan dy="-2.5" font-size="4.6">4</tspan></text>
<text x="286.90" y="283.80" font-size="8.3" text-anchor="middle">10<tspan dy="-2.5" font-size="4.6">0</tspan></text>
<line x1="285.7" y1="212.60" x2="287.3" y2="212.60" stroke="#8a8a8e" stroke-width="0.7"/>
<line x1="287.30" y1="273.9" x2="287.30" y2="275.5" stroke="#66666a" stroke-width="0.7"/>
<text x="277.2" y="230.82" font-size="8.3" text-anchor="middle">10<tspan dy="-2.5" font-size="4.6">3</tspan></text>
<text x="305.95" y="283.80" font-size="8.3" text-anchor="middle">10<tspan dy="-2.5" font-size="4.6">1</tspan></text>
<line x1="285.7" y1="227.92" x2="287.3" y2="227.92" stroke="#8a8a8e" stroke-width="0.7"/>
<line x1="306.35" y1="273.9" x2="306.35" y2="275.5" stroke="#66666a" stroke-width="0.7"/>
<text x="277.2" y="246.15" font-size="8.3" text-anchor="middle">10<tspan dy="-2.5" font-size="4.6">2</tspan></text>
<text x="325.00" y="283.80" font-size="8.3" text-anchor="middle">10<tspan dy="-2.5" font-size="4.6">2</tspan></text>
<line x1="285.7" y1="243.25" x2="287.3" y2="243.25" stroke="#8a8a8e" stroke-width="0.7"/>
<line x1="325.40" y1="273.9" x2="325.40" y2="275.5" stroke="#66666a" stroke-width="0.7"/>
<text x="277.2" y="261.47" font-size="8.3" text-anchor="middle">10<tspan dy="-2.5" font-size="4.6">1</tspan></text>
<text x="344.05" y="283.80" font-size="8.3" text-anchor="middle">10<tspan dy="-2.5" font-size="4.6">3</tspan></text>
<line x1="285.7" y1="258.57" x2="287.3" y2="258.57" stroke="#8a8a8e" stroke-width="0.7"/>
<line x1="344.45" y1="273.9" x2="344.45" y2="275.5" stroke="#66666a" stroke-width="0.7"/>
<text x="277.2" y="276.80" font-size="8.3" text-anchor="middle">10<tspan dy="-2.5" font-size="4.6">0</tspan></text>
<text x="363.10" y="283.80" font-size="8.3" text-anchor="middle">10<tspan dy="-2.5" font-size="4.6">4</tspan></text>
<line x1="285.7" y1="273.90" x2="287.3" y2="273.90" stroke="#8a8a8e" stroke-width="0.7"/>
<line x1="363.50" y1="273.9" x2="363.50" y2="275.5" stroke="#66666a" stroke-width="0.7"/>
<path d="M258.8 269V298.8H292" fill="none" stroke="#111" stroke-width="1.4"/>
<path d="M258.8 264.3L262.3 271.6L258.8 270.2L255.3 271.6Z" fill="#111"/>
<path d="M297.5 298.8L290.2 302.3L291.6 298.8L290.2 295.3Z" fill="#111"/>
<text x="302.2" y="302.6" font-size="10.3" textLength="13.6" lengthAdjust="spacingAndGlyphs" fill="#111" style="stroke:#111;stroke-width:.65px">CD8</text>
<text transform="translate(260.4 252) rotate(-90)" font-size="8.7" font-weight="bold" text-anchor="middle" textLength="15.4" lengthAdjust="spacingAndGlyphs" fill="#111">IFNg</text>
<text x="475.8" y="26.0" font-size="10.8" text-anchor="middle">CD8</text>
<text x="475.8" y="37.0" font-size="8.4" text-anchor="middle">ns</text>
<path d="M457.6 45.5V40.9H494.6V45.5" fill="none" stroke="#231f20" stroke-width="1.25"/>
<path d="M438.8 36.9V126H513.3" fill="none" stroke="#231f20" stroke-width="1.3"/>
<line x1="435.0" y1="39.1" x2="438.8" y2="39.1" stroke="#231f20" stroke-width="1.1"/>
<text x="431.90000000000003" y="42.2" font-size="8.6" text-anchor="end">10</text>
<line x1="435.0" y1="68.1" x2="438.8" y2="68.1" stroke="#231f20" stroke-width="1.1"/>
<text x="431.90000000000003" y="71.19999999999999" font-size="8.6" text-anchor="end">1</text>
<line x1="435.0" y1="97.15" x2="438.8" y2="97.15" stroke="#231f20" stroke-width="1.1"/>
<text x="431.90000000000003" y="100.25" font-size="8.6" text-anchor="end">0.1</text>
<line x1="435.0" y1="126" x2="438.8" y2="126" stroke="#231f20" stroke-width="1.1"/>
<text x="431.90000000000003" y="129.1" font-size="8.6" text-anchor="end">0.01</text>
<line x1="436.8" y1="59.37" x2="438.8" y2="59.37" stroke="#231f20" stroke-width="0.7"/>
<line x1="436.8" y1="54.26" x2="438.8" y2="54.26" stroke="#231f20" stroke-width="0.7"/>
<line x1="436.8" y1="50.64" x2="438.8" y2="50.64" stroke="#231f20" stroke-width="0.7"/>
<line x1="436.8" y1="47.83" x2="438.8" y2="47.83" stroke="#231f20" stroke-width="0.7"/>
<line x1="436.8" y1="45.53" x2="438.8" y2="45.53" stroke="#231f20" stroke-width="0.7"/>
<line x1="436.8" y1="43.59" x2="438.8" y2="43.59" stroke="#231f20" stroke-width="0.7"/>
<line x1="436.8" y1="41.91" x2="438.8" y2="41.91" stroke="#231f20" stroke-width="0.7"/>
<line x1="436.8" y1="40.43" x2="438.8" y2="40.43" stroke="#231f20" stroke-width="0.7"/>
<line x1="436.8" y1="88.37" x2="438.8" y2="88.37" stroke="#231f20" stroke-width="0.7"/>
<line x1="436.8" y1="83.26" x2="438.8" y2="83.26" stroke="#231f20" stroke-width="0.7"/>
<line x1="436.8" y1="79.64" x2="438.8" y2="79.64" stroke="#231f20" stroke-width="0.7"/>
<line x1="436.8" y1="76.83" x2="438.8" y2="76.83" stroke="#231f20" stroke-width="0.7"/>
<line x1="436.8" y1="74.53" x2="438.8" y2="74.53" stroke="#231f20" stroke-width="0.7"/>
<line x1="436.8" y1="72.59" x2="438.8" y2="72.59" stroke="#231f20" stroke-width="0.7"/>
<line x1="436.8" y1="70.91" x2="438.8" y2="70.91" stroke="#231f20" stroke-width="0.7"/>
<line x1="436.8" y1="69.43" x2="438.8" y2="69.43" stroke="#231f20" stroke-width="0.7"/>
<line x1="436.8" y1="117.37" x2="438.8" y2="117.37" stroke="#231f20" stroke-width="0.7"/>
<line x1="436.8" y1="112.26" x2="438.8" y2="112.26" stroke="#231f20" stroke-width="0.7"/>
<line x1="436.8" y1="108.64" x2="438.8" y2="108.64" stroke="#231f20" stroke-width="0.7"/>
<line x1="436.8" y1="105.83" x2="438.8" y2="105.83" stroke="#231f20" stroke-width="0.7"/>
<line x1="436.8" y1="103.53" x2="438.8" y2="103.53" stroke="#231f20" stroke-width="0.7"/>
<line x1="436.8" y1="101.59" x2="438.8" y2="101.59" stroke="#231f20" stroke-width="0.7"/>
<line x1="436.8" y1="99.91" x2="438.8" y2="99.91" stroke="#231f20" stroke-width="0.7"/>
<line x1="436.8" y1="98.43" x2="438.8" y2="98.43" stroke="#231f20" stroke-width="0.7"/>
<line x1="457.7" y1="126" x2="457.7" y2="130" stroke="#231f20" stroke-width="1.1"/>
<text transform="translate(461.20 136.5) rotate(-45)" font-size="8.3" text-anchor="end">before</text>
<line x1="494" y1="126" x2="494" y2="130" stroke="#231f20" stroke-width="1.1"/>
<text transform="translate(497.50 136.5) rotate(-45)" font-size="8.3" text-anchor="end">after (max)</text>
<text transform="translate(407.9 81.3) rotate(-90)" font-size="9.6" style="stroke-width:.45px" text-anchor="middle" textLength="54.8" lengthAdjust="spacingAndGlyphs">% of CD8 T cells</text>
<line x1="457.6" y1="54.9" x2="494" y2="55.1" stroke="#231f20" stroke-width="1.2"/>
<line x1="457.6" y1="58.0" x2="494" y2="58.6" stroke="#231f20" stroke-width="1.2"/>
<line x1="457.6" y1="65.7" x2="494" y2="65.3" stroke="#231f20" stroke-width="1.2"/>
<line x1="457.6" y1="71.3" x2="494" y2="66.8" stroke="#231f20" stroke-width="1.2"/>
<line x1="457.6" y1="76.8" x2="494" y2="71.5" stroke="#231f20" stroke-width="1.2"/>
<line x1="457.6" y1="81.4" x2="494" y2="67.2" stroke="#231f20" stroke-width="1.2"/>
<line x1="457.6" y1="82.6" x2="494" y2="88.8" stroke="#231f20" stroke-width="1.2"/>
<line x1="457.6" y1="85.0" x2="494" y2="91" stroke="#231f20" stroke-width="1.2"/>
<line x1="457.6" y1="108.4" x2="494" y2="74.2" stroke="#231f20" stroke-width="1.2"/>
<line x1="457.6" y1="105.6" x2="494" y2="98" stroke="#231f20" stroke-width="1.2"/>
<line x1="457.6" y1="125.5" x2="494" y2="99.6" stroke="#231f20" stroke-width="1.2"/>
<line x1="457.6" y1="125.5" x2="494" y2="108.5" stroke="#231f20" stroke-width="1.2"/>
<circle cx="457.6" cy="54.9" r="1.65" fill="#18344f" stroke="#060e16" stroke-width="1.0"/>
<circle cx="494" cy="55.1" r="1.65" fill="#18344f" stroke="#060e16" stroke-width="1.0"/>
<circle cx="457.6" cy="58.0" r="1.65" fill="#18344f" stroke="#060e16" stroke-width="1.0"/>
<circle cx="494" cy="58.6" r="1.65" fill="#18344f" stroke="#060e16" stroke-width="1.0"/>
<circle cx="457.6" cy="65.7" r="1.65" fill="#8e0f28" stroke="#28050b" stroke-width="1.0"/>
<circle cx="494" cy="65.3" r="1.65" fill="#8e0f28" stroke="#28050b" stroke-width="1.0"/>
<circle cx="457.6" cy="71.3" r="1.65" fill="#18344f" stroke="#060e16" stroke-width="1.0"/>
<circle cx="494" cy="66.8" r="1.65" fill="#8e0f28" stroke="#28050b" stroke-width="1.0"/>
<circle cx="457.6" cy="76.8" r="1.65" fill="#8e0f28" stroke="#28050b" stroke-width="1.0"/>
<circle cx="494" cy="71.5" r="1.65" fill="#8e0f28" stroke="#28050b" stroke-width="1.0"/>
<circle cx="457.6" cy="81.4" r="1.65" fill="#8e0f28" stroke="#28050b" stroke-width="1.0"/>
<circle cx="494" cy="67.2" r="1.65" fill="#8e0f28" stroke="#28050b" stroke-width="1.0"/>
<circle cx="457.6" cy="82.6" r="1.65" fill="#8e0f28" stroke="#28050b" stroke-width="1.0"/>
<circle cx="494" cy="88.8" r="1.65" fill="#8e0f28" stroke="#28050b" stroke-width="1.0"/>
<circle cx="457.6" cy="85.0" r="1.65" fill="#8e0f28" stroke="#28050b" stroke-width="1.0"/>
<circle cx="494" cy="91" r="1.65" fill="#8e0f28" stroke="#28050b" stroke-width="1.0"/>
<circle cx="457.6" cy="108.4" r="1.65" fill="#8e0f28" stroke="#28050b" stroke-width="1.0"/>
<circle cx="494" cy="74.2" r="1.65" fill="#8e0f28" stroke="#28050b" stroke-width="1.0"/>
<circle cx="457.6" cy="105.6" r="1.65" fill="#18344f" stroke="#060e16" stroke-width="1.0"/>
<circle cx="494" cy="98" r="1.65" fill="#18344f" stroke="#060e16" stroke-width="1.0"/>
<circle cx="457.6" cy="125.5" r="1.65" fill="#18344f" stroke="#060e16" stroke-width="1.0"/>
<circle cx="494" cy="99.6" r="1.65" fill="#18344f" stroke="#060e16" stroke-width="1.0"/>
<circle cx="457.6" cy="125.5" r="1.65" fill="#18344f" stroke="#060e16" stroke-width="1.0"/>
<circle cx="494" cy="108.5" r="1.65" fill="#18344f" stroke="#060e16" stroke-width="1.0"/>
<text x="475.8" y="189.4" font-size="10.8" text-anchor="middle">CD4</text>
<text x="475.8" y="198.5" font-size="8.4" text-anchor="middle">ns</text>
<path d="M457.6 207.4V202.8H494.6V207.4" fill="none" stroke="#231f20" stroke-width="1.25"/>
<path d="M438.8 200V291.7H513.3" fill="none" stroke="#231f20" stroke-width="1.3"/>
<line x1="435.0" y1="214.8" x2="438.8" y2="214.8" stroke="#231f20" stroke-width="1.1"/>
<text x="431.90000000000003" y="217.9" font-size="8.6" text-anchor="end">1</text>
<line x1="435.0" y1="253.3" x2="438.8" y2="253.3" stroke="#231f20" stroke-width="1.1"/>
<text x="431.90000000000003" y="256.40000000000003" font-size="8.6" text-anchor="end">0.1</text>
<line x1="435.0" y1="291.7" x2="438.8" y2="291.7" stroke="#231f20" stroke-width="1.1"/>
<text x="431.90000000000003" y="294.8" font-size="8.6" text-anchor="end">0.01</text>
<line x1="436.8" y1="203.21" x2="438.8" y2="203.21" stroke="#231f20" stroke-width="0.7"/>
<line x1="436.8" y1="241.71" x2="438.8" y2="241.71" stroke="#231f20" stroke-width="0.7"/>
<line x1="436.8" y1="234.93" x2="438.8" y2="234.93" stroke="#231f20" stroke-width="0.7"/>
<line x1="436.8" y1="230.12" x2="438.8" y2="230.12" stroke="#231f20" stroke-width="0.7"/>
<line x1="436.8" y1="226.39" x2="438.8" y2="226.39" stroke="#231f20" stroke-width="0.7"/>
<line x1="436.8" y1="223.34" x2="438.8" y2="223.34" stroke="#231f20" stroke-width="0.7"/>
<line x1="436.8" y1="220.76" x2="438.8" y2="220.76" stroke="#231f20" stroke-width="0.7"/>
<line x1="436.8" y1="218.53" x2="438.8" y2="218.53" stroke="#231f20" stroke-width="0.7"/>
<line x1="436.8" y1="216.56" x2="438.8" y2="216.56" stroke="#231f20" stroke-width="0.7"/>
<line x1="436.8" y1="280.21" x2="438.8" y2="280.21" stroke="#231f20" stroke-width="0.7"/>
<line x1="436.8" y1="273.43" x2="438.8" y2="273.43" stroke="#231f20" stroke-width="0.7"/>
<line x1="436.8" y1="268.62" x2="438.8" y2="268.62" stroke="#231f20" stroke-width="0.7"/>
<line x1="436.8" y1="264.89" x2="438.8" y2="264.89" stroke="#231f20" stroke-width="0.7"/>
<line x1="436.8" y1="261.84" x2="438.8" y2="261.84" stroke="#231f20" stroke-width="0.7"/>
<line x1="436.8" y1="259.26" x2="438.8" y2="259.26" stroke="#231f20" stroke-width="0.7"/>
<line x1="436.8" y1="257.03" x2="438.8" y2="257.03" stroke="#231f20" stroke-width="0.7"/>
<line x1="436.8" y1="255.06" x2="438.8" y2="255.06" stroke="#231f20" stroke-width="0.7"/>
<line x1="457.7" y1="291.7" x2="457.7" y2="295.7" stroke="#231f20" stroke-width="1.1"/>
<text transform="translate(461.20 302.2) rotate(-45)" font-size="8.3" text-anchor="end">before</text>
<line x1="494" y1="291.7" x2="494" y2="295.7" stroke="#231f20" stroke-width="1.1"/>
<text transform="translate(497.50 302.2) rotate(-45)" font-size="8.3" text-anchor="end">after (max)</text>
<text transform="translate(407.9 247.2) rotate(-90)" font-size="9.6" style="stroke-width:.45px" text-anchor="middle" textLength="54.8" lengthAdjust="spacingAndGlyphs">% of CD4 T cells</text>
<line x1="457.6" y1="227.3" x2="494" y2="212" stroke="#231f20" stroke-width="1.2"/>
<line x1="457.6" y1="227.3" x2="494" y2="245.8" stroke="#231f20" stroke-width="1.2"/>
<line x1="457.6" y1="231.9" x2="494" y2="231.7" stroke="#231f20" stroke-width="1.2"/>
<line x1="457.6" y1="232.4" x2="494" y2="237.5" stroke="#231f20" stroke-width="1.2"/>
<line x1="457.6" y1="236.4" x2="494" y2="237.5" stroke="#231f20" stroke-width="1.2"/>
<line x1="457.6" y1="239.2" x2="494" y2="237.5" stroke="#231f20" stroke-width="1.2"/>
<line x1="457.6" y1="254.5" x2="494" y2="227.5" stroke="#231f20" stroke-width="1.2"/>
<line x1="457.6" y1="250.1" x2="494" y2="268.5" stroke="#231f20" stroke-width="1.2"/>
<line x1="457.6" y1="254.5" x2="494" y2="257.3" stroke="#231f20" stroke-width="1.2"/>
<line x1="457.6" y1="261.8" x2="494" y2="272.9" stroke="#231f20" stroke-width="1.2"/>
<line x1="457.6" y1="270.9" x2="494" y2="257.3" stroke="#231f20" stroke-width="1.2"/>
<line x1="457.6" y1="280.2" x2="494" y2="265.2" stroke="#231f20" stroke-width="1.2"/>
<circle cx="457.6" cy="227.3" r="1.65" fill="#8e0f28" stroke="#28050b" stroke-width="1.0"/>
<circle cx="494" cy="212" r="1.65" fill="#8e0f28" stroke="#28050b" stroke-width="1.0"/>
<circle cx="457.6" cy="227.3" r="1.65" fill="#8e0f28" stroke="#28050b" stroke-width="1.0"/>
<circle cx="494" cy="245.8" r="1.65" fill="#8e0f28" stroke="#28050b" stroke-width="1.0"/>
<circle cx="457.6" cy="231.9" r="1.65" fill="#8e0f28" stroke="#28050b" stroke-width="1.0"/>
<circle cx="494" cy="231.7" r="1.65" fill="#8e0f28" stroke="#28050b" stroke-width="1.0"/>
<circle cx="457.6" cy="232.4" r="1.65" fill="#8e0f28" stroke="#28050b" stroke-width="1.0"/>
<circle cx="494" cy="237.5" r="1.65" fill="#8e0f28" stroke="#28050b" stroke-width="1.0"/>
<circle cx="457.6" cy="236.4" r="1.65" fill="#8e0f28" stroke="#28050b" stroke-width="1.0"/>
<circle cx="494" cy="237.5" r="1.65" fill="#8e0f28" stroke="#28050b" stroke-width="1.0"/>
<circle cx="457.6" cy="239.2" r="1.65" fill="#8e0f28" stroke="#28050b" stroke-width="1.0"/>
<circle cx="494" cy="237.5" r="1.65" fill="#8e0f28" stroke="#28050b" stroke-width="1.0"/>
<circle cx="457.6" cy="254.5" r="1.65" fill="#8e0f28" stroke="#28050b" stroke-width="1.0"/>
<circle cx="494" cy="227.5" r="1.65" fill="#8e0f28" stroke="#28050b" stroke-width="1.0"/>
<circle cx="457.6" cy="250.1" r="1.65" fill="#18344f" stroke="#060e16" stroke-width="1.0"/>
<circle cx="494" cy="268.5" r="1.65" fill="#18344f" stroke="#060e16" stroke-width="1.0"/>
<circle cx="457.6" cy="254.5" r="1.65" fill="#8e0f28" stroke="#28050b" stroke-width="1.0"/>
<circle cx="494" cy="257.3" r="1.65" fill="#8e0f28" stroke="#28050b" stroke-width="1.0"/>
<circle cx="457.6" cy="261.8" r="1.65" fill="#18344f" stroke="#060e16" stroke-width="1.0"/>
<circle cx="494" cy="272.9" r="1.65" fill="#18344f" stroke="#060e16" stroke-width="1.0"/>
<circle cx="457.6" cy="270.9" r="1.65" fill="#18344f" stroke="#060e16" stroke-width="1.0"/>
<circle cx="494" cy="257.3" r="1.65" fill="#8e0f28" stroke="#28050b" stroke-width="1.0"/>
<circle cx="457.6" cy="280.2" r="1.65" fill="#18344f" stroke="#060e16" stroke-width="1.0"/>
<circle cx="494" cy="265.2" r="1.65" fill="#18344f" stroke="#060e16" stroke-width="1.0"/>
</svg>
</body></html>
